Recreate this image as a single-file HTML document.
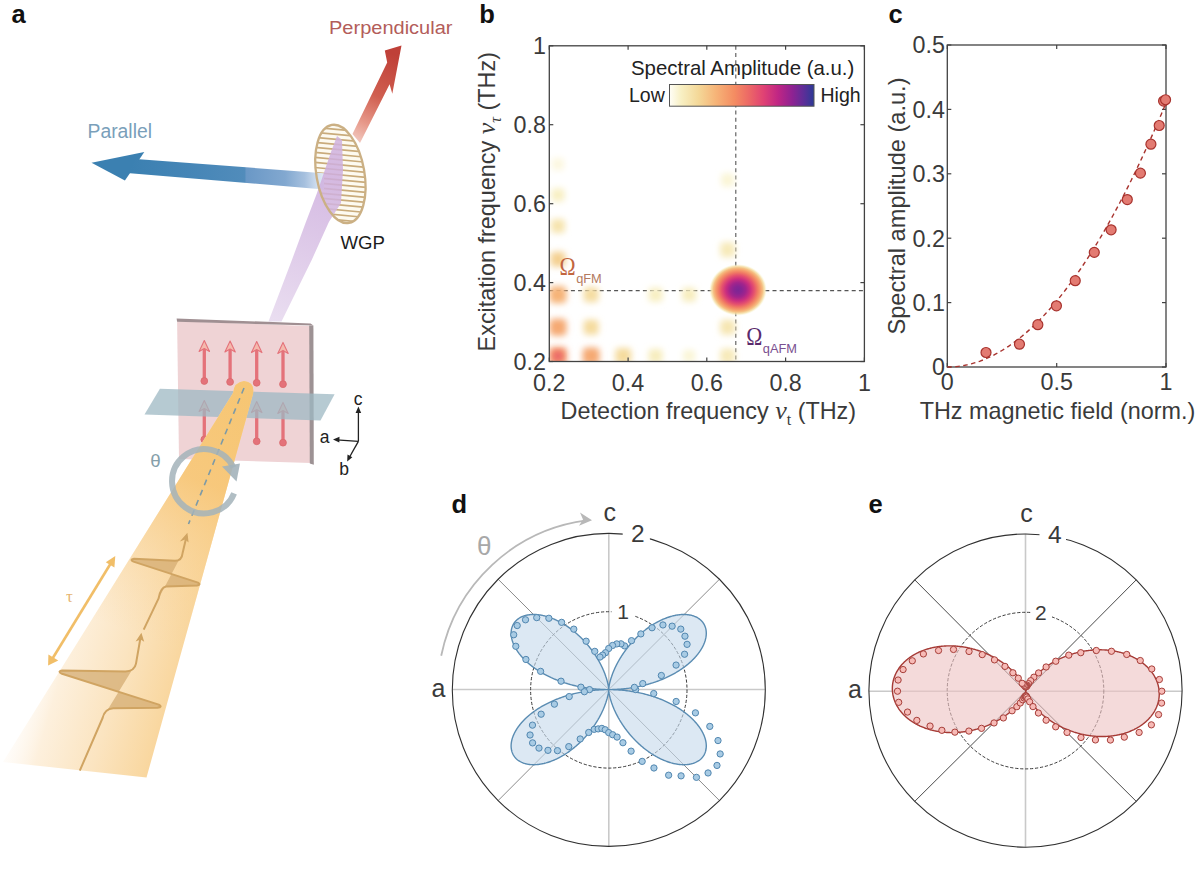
<!DOCTYPE html>
<html><head><meta charset="utf-8"><title>Figure</title>
<style>html,body{margin:0;padding:0;background:#fff;} svg{display:block;}</style></head>
<body><svg width="1204" height="884" viewBox="0 0 1204 884">
<defs><filter id="bblur" x="-50%" y="-50%" width="200%" height="200%"><feGaussianBlur stdDeviation="3.3"/></filter><radialGradient id="mainblob"><stop offset="0" stop-color="#7b2694" stop-opacity="1.00"/><stop offset="0.14" stop-color="#882493" stop-opacity="1.00"/><stop offset="0.28" stop-color="#a2248c" stop-opacity="1.00"/><stop offset="0.42" stop-color="#ca2e7f" stop-opacity="1.00"/><stop offset="0.56" stop-color="#e5516e" stop-opacity="1.00"/><stop offset="0.67" stop-color="#f07a64" stop-opacity="1.00"/><stop offset="0.77" stop-color="#f59e6c" stop-opacity="1.00"/><stop offset="0.85" stop-color="#f5c083" stop-opacity="1.00"/><stop offset="0.92" stop-color="#f5e0a7" stop-opacity="0.80"/><stop offset="0.97" stop-color="#f9f2ca" stop-opacity="0.30"/><stop offset="1.0" stop-color="#fdfaea" stop-opacity="0.00"/></radialGradient><clipPath id="bclip"><rect x="549.3" y="45.8" width="315.1" height="315.7"/></clipPath><linearGradient id="cbar" x1="0" x2="1" y1="0" y2="0"><stop offset="0.0" stop-color="#fffef7"/><stop offset="0.08" stop-color="#f8f0c4"/><stop offset="0.2" stop-color="#f4d898"/><stop offset="0.32" stop-color="#f6b478"/><stop offset="0.45" stop-color="#f48c62"/><stop offset="0.55" stop-color="#ec6866"/><stop offset="0.65" stop-color="#e04274"/><stop offset="0.75" stop-color="#c02684"/><stop offset="0.85" stop-color="#8e2292"/><stop offset="0.93" stop-color="#5c2e98"/><stop offset="1.0" stop-color="#2c3a96"/></linearGradient><linearGradient id="beamg" gradientUnits="userSpaceOnUse" x1="20" y1="700" x2="175" y2="745">
<stop offset="0" stop-color="#fef7ee" stop-opacity="0.3"/><stop offset="0.2" stop-color="#fdf0dd"/><stop offset="0.55" stop-color="#fbe4c0"/><stop offset="0.85" stop-color="#f9d8a2"/><stop offset="1" stop-color="#f8d092"/></linearGradient><linearGradient id="beamtop" gradientUnits="userSpaceOnUse" x1="240" y1="400" x2="150" y2="640">
<stop offset="0" stop-color="#f6c46f"/><stop offset="0.35" stop-color="#f7c677"/><stop offset="0.62" stop-color="#f8cd88" stop-opacity="0.6"/><stop offset="1" stop-color="#f9d49a" stop-opacity="0"/></linearGradient><linearGradient id="purpg" gradientUnits="userSpaceOnUse" x1="275" y1="322" x2="338" y2="140">
<stop offset="0" stop-color="#e6d8ee"/><stop offset="0.5" stop-color="#d6bde3"/><stop offset="0.8" stop-color="#ceaede"/><stop offset="1" stop-color="#d0b2df"/></linearGradient><linearGradient id="blueg" gradientUnits="userSpaceOnUse" x1="130" y1="0" x2="324" y2="0">
<stop offset="0" stop-color="#3b80b1"/><stop offset="0.3" stop-color="#4585b6"/><stop offset="0.59" stop-color="#518cbb"/><stop offset="0.6" stop-color="#6a98c6"/><stop offset="0.8" stop-color="#82a8d0"/><stop offset="0.9" stop-color="#a6c0de"/><stop offset="0.96" stop-color="#cddcee"/><stop offset="1" stop-color="#e2eaf4"/></linearGradient><linearGradient id="redg" gradientUnits="userSpaceOnUse" x1="395" y1="55" x2="352" y2="145">
<stop offset="0" stop-color="#bf4038"/><stop offset="0.45" stop-color="#d05f50"/><stop offset="0.75" stop-color="#e7998a"/><stop offset="1" stop-color="#f4d4cc"/></linearGradient><clipPath id="wgpclip"><ellipse cx="0" cy="0" rx="24" ry="49.7" transform="rotate(-10)"/></clipPath></defs>
<rect width="1204" height="884" fill="#fff"/>
<polygon points="91.5,162.7 144.3,152 134.5,166.5 124.9,180.4" fill="#3b80b1"/><polygon points="401.5,45.6 384.8,50.4 387.2,62.6 352.5,134 360,143 389.6,84.3 392.3,93.8" fill="url(#redg)"/><g transform="translate(340.4,173.9)"><g clip-path="url(#wgpclip)"><ellipse cx="0" cy="0" rx="24" ry="49.7" transform="rotate(-10)" fill="#fdfaf0"/><line x1="-32" y1="-54.0" x2="32" y2="-54.0" stroke="#c9ab7b" stroke-width="1.7" transform="rotate(5.4)"/><line x1="-32" y1="-49.0" x2="32" y2="-49.0" stroke="#c9ab7b" stroke-width="1.7" transform="rotate(5.4)"/><line x1="-32" y1="-44.0" x2="32" y2="-44.0" stroke="#c9ab7b" stroke-width="1.7" transform="rotate(5.4)"/><line x1="-32" y1="-39.0" x2="32" y2="-39.0" stroke="#c9ab7b" stroke-width="1.7" transform="rotate(5.4)"/><line x1="-32" y1="-34.0" x2="32" y2="-34.0" stroke="#c9ab7b" stroke-width="1.7" transform="rotate(5.4)"/><line x1="-32" y1="-29.0" x2="32" y2="-29.0" stroke="#c9ab7b" stroke-width="1.7" transform="rotate(5.4)"/><line x1="-32" y1="-24.0" x2="32" y2="-24.0" stroke="#c9ab7b" stroke-width="1.7" transform="rotate(5.4)"/><line x1="-32" y1="-19.0" x2="32" y2="-19.0" stroke="#c9ab7b" stroke-width="1.7" transform="rotate(5.4)"/><line x1="-32" y1="-14.0" x2="32" y2="-14.0" stroke="#c9ab7b" stroke-width="1.7" transform="rotate(5.4)"/><line x1="-32" y1="-9.0" x2="32" y2="-9.0" stroke="#c9ab7b" stroke-width="1.7" transform="rotate(5.4)"/><line x1="-32" y1="-4.0" x2="32" y2="-4.0" stroke="#c9ab7b" stroke-width="1.7" transform="rotate(5.4)"/><line x1="-32" y1="1.0" x2="32" y2="1.0" stroke="#c9ab7b" stroke-width="1.7" transform="rotate(5.4)"/><line x1="-32" y1="6.0" x2="32" y2="6.0" stroke="#c9ab7b" stroke-width="1.7" transform="rotate(5.4)"/><line x1="-32" y1="11.0" x2="32" y2="11.0" stroke="#c9ab7b" stroke-width="1.7" transform="rotate(5.4)"/><line x1="-32" y1="16.0" x2="32" y2="16.0" stroke="#c9ab7b" stroke-width="1.7" transform="rotate(5.4)"/><line x1="-32" y1="21.0" x2="32" y2="21.0" stroke="#c9ab7b" stroke-width="1.7" transform="rotate(5.4)"/><line x1="-32" y1="26.0" x2="32" y2="26.0" stroke="#c9ab7b" stroke-width="1.7" transform="rotate(5.4)"/><line x1="-32" y1="31.0" x2="32" y2="31.0" stroke="#c9ab7b" stroke-width="1.7" transform="rotate(5.4)"/><line x1="-32" y1="36.0" x2="32" y2="36.0" stroke="#c9ab7b" stroke-width="1.7" transform="rotate(5.4)"/><line x1="-32" y1="41.0" x2="32" y2="41.0" stroke="#c9ab7b" stroke-width="1.7" transform="rotate(5.4)"/><line x1="-32" y1="46.0" x2="32" y2="46.0" stroke="#c9ab7b" stroke-width="1.7" transform="rotate(5.4)"/><line x1="-32" y1="51.0" x2="32" y2="51.0" stroke="#c9ab7b" stroke-width="1.7" transform="rotate(5.4)"/><line x1="-32" y1="56.0" x2="32" y2="56.0" stroke="#c9ab7b" stroke-width="1.7" transform="rotate(5.4)"/></g></g><polygon points="136,159.1 324,173.2 324,189.4 127,173.1" fill="url(#blueg)"/><polygon points="268.5,321.5 281.5,321.5 311.7,260 329,221.7 341,203 343,170 342,140 337,136 331,152 317,193 306,221.7 291.9,260" fill="url(#purpg)" fill-opacity="0.85"/><ellipse cx="340.4" cy="173.9" rx="24" ry="49.7" transform="rotate(-10 340.4 173.9)" fill="none" stroke="#cbb084" stroke-width="2.3"/><text x="329" y="33.8" font-family="Liberation Sans, Arial, Helvetica, sans-serif" font-size="18.8" fill="#b35d5a" textLength="123.5" lengthAdjust="spacingAndGlyphs">Perpendicular</text><text x="87.5" y="138.3" font-family="Liberation Sans, Arial, Helvetica, sans-serif" font-size="19.5" fill="#7a9fba" textLength="64.5" lengthAdjust="spacingAndGlyphs">Parallel</text><text x="340.5" y="249.1" font-family="Liberation Sans, Arial, Helvetica, sans-serif" font-size="18.6" fill="#1c1c1c">WGP</text><polygon points="177.1,321.2 310.1,325.9 311,463 179,459" fill="#efd3d5"/><polygon points="176.6,318.6 310.6,323.4 313.4,325.6 177.1,321.8" fill="#a08f92"/><polygon points="309.2,325.6 313.4,325.6 313.8,464.8 309.8,463.6" fill="#9d9294"/><line x1="204.3" y1="348.5" x2="204.3" y2="381.0" stroke="#e4727a" stroke-width="3.3"/><circle cx="204.3" cy="381.0" r="3.4" fill="#e4727a" stroke="#d96a6c" stroke-width="0.8"/><path d="M199.1,351.5 L204.3,340.5 L209.5,351.5 L204.3,348.5 Z" fill="#f4b9ad" stroke="#e4727a" stroke-width="1.1" stroke-linejoin="round"/><line x1="230.1" y1="349.0" x2="230.1" y2="381.9" stroke="#e4727a" stroke-width="3.3"/><circle cx="230.1" cy="381.9" r="3.4" fill="#e4727a" stroke="#d96a6c" stroke-width="0.8"/><path d="M224.9,352.0 L230.1,341.0 L235.3,352.0 L230.1,349.0 Z" fill="#f4b9ad" stroke="#e4727a" stroke-width="1.1" stroke-linejoin="round"/><line x1="256.7" y1="349.6" x2="256.7" y2="382.8" stroke="#e4727a" stroke-width="3.3"/><circle cx="256.7" cy="382.8" r="3.4" fill="#e4727a" stroke="#d96a6c" stroke-width="0.8"/><path d="M251.5,352.6 L256.7,341.6 L261.9,352.6 L256.7,349.6 Z" fill="#f4b9ad" stroke="#e4727a" stroke-width="1.1" stroke-linejoin="round"/><line x1="283.0" y1="350.4" x2="283.0" y2="384.2" stroke="#e4727a" stroke-width="3.3"/><circle cx="283.0" cy="384.2" r="3.4" fill="#e4727a" stroke="#d96a6c" stroke-width="0.8"/><path d="M277.8,353.4 L283.0,342.4 L288.2,353.4 L283.0,350.4 Z" fill="#f4b9ad" stroke="#e4727a" stroke-width="1.1" stroke-linejoin="round"/><line x1="204.3" y1="408.5" x2="204.3" y2="439.5" stroke="#e4727a" stroke-width="3.3"/><circle cx="204.3" cy="439.5" r="3.4" fill="#e4727a" stroke="#d96a6c" stroke-width="0.8"/><path d="M199.1,411.5 L204.3,400.5 L209.5,411.5 L204.3,408.5 Z" fill="#f4b9ad" stroke="#e4727a" stroke-width="1.1" stroke-linejoin="round"/><line x1="230.1" y1="409.0" x2="230.1" y2="440.4" stroke="#e4727a" stroke-width="3.3"/><circle cx="230.1" cy="440.4" r="3.4" fill="#e4727a" stroke="#d96a6c" stroke-width="0.8"/><path d="M224.9,412.0 L230.1,401.0 L235.3,412.0 L230.1,409.0 Z" fill="#f4b9ad" stroke="#e4727a" stroke-width="1.1" stroke-linejoin="round"/><line x1="256.7" y1="409.6" x2="256.7" y2="441.3" stroke="#e4727a" stroke-width="3.3"/><circle cx="256.7" cy="441.3" r="3.4" fill="#e4727a" stroke="#d96a6c" stroke-width="0.8"/><path d="M251.5,412.6 L256.7,401.6 L261.9,412.6 L256.7,409.6 Z" fill="#f4b9ad" stroke="#e4727a" stroke-width="1.1" stroke-linejoin="round"/><line x1="283.0" y1="410.4" x2="283.0" y2="442.7" stroke="#e4727a" stroke-width="3.3"/><circle cx="283.0" cy="442.7" r="3.4" fill="#e4727a" stroke="#d96a6c" stroke-width="0.8"/><path d="M277.8,413.4 L283.0,402.4 L288.2,413.4 L283.0,410.4 Z" fill="#f4b9ad" stroke="#e4727a" stroke-width="1.1" stroke-linejoin="round"/><polygon points="159.9,388.7 334.6,394.2 320.5,420.4 144.5,414.6" fill="#9db8c3" fill-opacity="0.75"/><path d="M233,393 Q234,382 244,381 Q255,382 253,394 L146.5,777.6 L3,762 Z" fill="url(#beamg)"/><path d="M233,393 Q234,382 244,381 Q255,382 253,394 L146.5,777.6 L3,762 Z" fill="url(#beamtop)" fill-opacity="0.9"/><line x1="244" y1="388" x2="188.5" y2="524" stroke="#7d9aa6" stroke-width="1.6" stroke-dasharray="6,5"/><path d="M234.1,493.3 A32.2,32.2 0 1 1 233.4,467.6" fill="none" stroke="#a3b3ba" stroke-width="6" stroke-opacity="0.85"/><polygon points="222,466.5 240,463.5 236.5,481.5" fill="#a3b3ba" fill-opacity="0.9"/><text x="155.5" y="467.3" font-family="Liberation Sans, Arial, Helvetica, sans-serif" font-size="18.8" fill="#86a0aa" text-anchor="middle">&#952;</text><path d="M158.6,598.4 Q160.5,587.8 166,586.6 L197,585.6 Q201.5,584.6 198,582.6 L133.5,561.6 Q129.2,559.6 134,558.8 L175,560.8 Q182,560.8 182.6,553 Z" fill="#d3aa70" fill-opacity="0.72"/><path d="M143.7,629.6 L158.6,598.4 Q160.5,587.8 166,586.6 L197,585.6 Q201.5,584.6 198,582.6 L133.5,561.6 Q129.2,559.6 134,558.8 L175,560.8 Q182,560.8 182.6,553 L186.6,536" fill="none" stroke="#d0a462" stroke-width="2" stroke-linejoin="round"/><path d="M187.4,532.8 L179.8,541.6 L185.2,539.6 L188.6,542.6 Z" fill="#d0a462"/><path d="M102.6,718 Q104.5,709 113.2,708.3 L157.5,707.8 Q163,706.8 158.8,704.6 L62,673.8 Q56.8,671.4 62.5,670.4 L125.4,671.4 Q134.5,671.2 136,663.6 Z" fill="#d3aa70" fill-opacity="0.72"/><path d="M79.8,770.6 L102.6,718 Q104.5,709 113.2,708.3 L157.5,707.8 Q163,706.8 158.8,704.6 L62,673.8 Q56.8,671.4 62.5,670.4 L125.4,671.4 Q134.5,671.2 136,663.6 L140.6,637" fill="none" stroke="#d0a462" stroke-width="2" stroke-linejoin="round"/><path d="M141.4,632.8 L135.6,641.6 L140.6,639.6 L144.2,641.8 Z" fill="#d0a462"/><line x1="112.5" y1="560.5" x2="51" y2="661" stroke="#f1be68" stroke-width="2.6"/><polygon points="115.3,556.1 105.8,562.2 114.4,567.6" fill="#f1be68"/><polygon points="48.1,665.4 48.4,654.5 58.3,660.6" fill="#f1be68"/><text x="69.5" y="601.6" font-family="Liberation Serif, Times New Roman, serif" font-size="17" fill="#e6b574" text-anchor="middle">&#964;</text><line x1="358.4" y1="441.4" x2="358.4" y2="410" stroke="#222" stroke-width="1.3"/><polygon points="358.4,406.5 355.6,413 361.2,413" fill="#222"/><line x1="358.4" y1="441.4" x2="336.5" y2="439.8" stroke="#222" stroke-width="1.3"/><polygon points="333,439.6 339.5,436.8 339.3,442.4" fill="#222"/><line x1="358.4" y1="441.4" x2="349" y2="458" stroke="#222" stroke-width="1.3"/><polygon points="347.2,461.5 347.5,454.5 352.3,457.2" fill="#222"/><text x="358" y="405" font-family="Liberation Sans, Arial, Helvetica, sans-serif" font-size="17.5" fill="#222" text-anchor="middle">c</text><text x="324.7" y="443.3" font-family="Liberation Sans, Arial, Helvetica, sans-serif" font-size="17.5" fill="#222" text-anchor="middle">a</text><text x="344.2" y="475" font-family="Liberation Sans, Arial, Helvetica, sans-serif" font-size="17.5" fill="#222" text-anchor="middle">b</text><line x1="735.8" y1="45.8" x2="735.8" y2="361.5" stroke="#555" stroke-width="1.1" stroke-dasharray="4,3.2"/><line x1="549.3" y1="290.6" x2="864.4" y2="290.6" stroke="#555" stroke-width="1.1" stroke-dasharray="4,3.2"/><g clip-path="url(#bclip)"><rect x="549.0" y="347.0" width="18.0" height="18.0" rx="4.5" fill="#f59869" filter="url(#bblur)"/><rect x="549.5" y="318.7" width="17.0" height="17.0" rx="4.2" fill="#f5a972" filter="url(#bblur)"/><rect x="549.5" y="286.3" width="17.0" height="17.0" rx="4.2" fill="#f6b377" filter="url(#bblur)"/><rect x="550.5" y="251.8" width="15.0" height="15.0" rx="3.8" fill="#f4d091" filter="url(#bblur)"/><rect x="551.0" y="219.1" width="14.0" height="14.0" rx="3.5" fill="#f6e4ae" filter="url(#bblur)"/><rect x="551.5" y="188.5" width="13.0" height="13.0" rx="3.2" fill="#f8efc2" filter="url(#bblur)"/><rect x="552.0" y="158.2" width="12.0" height="12.0" rx="3.0" fill="#fcf7df" filter="url(#bblur)"/><rect x="582.6" y="347.5" width="17.0" height="17.0" rx="4.2" fill="#f5a972" filter="url(#bblur)"/><rect x="583.6" y="319.7" width="15.0" height="15.0" rx="3.8" fill="#f5db9e" filter="url(#bblur)"/><rect x="583.6" y="287.3" width="15.0" height="15.0" rx="3.8" fill="#f5dda2" filter="url(#bblur)"/><rect x="615.3" y="348.0" width="16.0" height="16.0" rx="4.0" fill="#f5db9e" filter="url(#bblur)"/><rect x="648.6" y="349.0" width="14.0" height="14.0" rx="3.5" fill="#f7edbe" filter="url(#bblur)"/><rect x="648.6" y="287.8" width="14.0" height="14.0" rx="3.5" fill="#f8efc2" filter="url(#bblur)"/><rect x="682.1" y="287.8" width="14.0" height="14.0" rx="3.5" fill="#f7edbe" filter="url(#bblur)"/><rect x="683.1" y="350.0" width="12.0" height="12.0" rx="3.0" fill="#faf5d5" filter="url(#bblur)"/><rect x="720.2" y="242.3" width="15.0" height="15.0" rx="3.8" fill="#f7eaba" filter="url(#bblur)"/><rect x="720.2" y="319.7" width="15.0" height="15.0" rx="3.8" fill="#f6e6b2" filter="url(#bblur)"/><rect x="720.2" y="348.5" width="15.0" height="15.0" rx="3.8" fill="#f7eaba" filter="url(#bblur)"/><rect x="721.2" y="173.5" width="13.0" height="13.0" rx="3.2" fill="#faf5d5" filter="url(#bblur)"/><rect x="553.5" y="351.5" width="9" height="9" rx="3" fill="#e85d6a" filter="url(#bblur)"/><ellipse cx="738" cy="289.9" rx="29" ry="26" fill="url(#mainblob)"/></g><rect x="549.3" y="45.8" width="315.1" height="315.7" fill="none" stroke="#424242" stroke-width="1.3"/><line x1="549.3" y1="361.5" x2="549.3" y2="357.5" stroke="#424242" stroke-width="1.2"/><line x1="549.3" y1="45.8" x2="549.3" y2="49.8" stroke="#424242" stroke-width="1.2"/><line x1="549.3" y1="361.5" x2="553.3" y2="361.5" stroke="#424242" stroke-width="1.2"/><line x1="864.4" y1="361.5" x2="860.4" y2="361.5" stroke="#424242" stroke-width="1.2"/><text x="549.30" y="390.50" font-family="Liberation Sans, Arial, Helvetica, sans-serif" font-size="23.3" fill="#3a3a3a" text-anchor="middle" font-weight="normal" >0.2</text><text x="546.00" y="369.80" font-family="Liberation Sans, Arial, Helvetica, sans-serif" font-size="23.3" fill="#3a3a3a" text-anchor="end" font-weight="normal" >0.2</text><line x1="628.1" y1="361.5" x2="628.1" y2="357.5" stroke="#424242" stroke-width="1.2"/><line x1="628.1" y1="45.8" x2="628.1" y2="49.8" stroke="#424242" stroke-width="1.2"/><line x1="549.3" y1="282.6" x2="553.3" y2="282.6" stroke="#424242" stroke-width="1.2"/><line x1="864.4" y1="282.6" x2="860.4" y2="282.6" stroke="#424242" stroke-width="1.2"/><text x="628.07" y="390.50" font-family="Liberation Sans, Arial, Helvetica, sans-serif" font-size="23.3" fill="#3a3a3a" text-anchor="middle" font-weight="normal" >0.4</text><text x="546.00" y="290.88" font-family="Liberation Sans, Arial, Helvetica, sans-serif" font-size="23.3" fill="#3a3a3a" text-anchor="end" font-weight="normal" >0.4</text><line x1="706.8" y1="361.5" x2="706.8" y2="357.5" stroke="#424242" stroke-width="1.2"/><line x1="706.8" y1="45.8" x2="706.8" y2="49.8" stroke="#424242" stroke-width="1.2"/><line x1="549.3" y1="203.7" x2="553.3" y2="203.7" stroke="#424242" stroke-width="1.2"/><line x1="864.4" y1="203.7" x2="860.4" y2="203.7" stroke="#424242" stroke-width="1.2"/><text x="706.85" y="390.50" font-family="Liberation Sans, Arial, Helvetica, sans-serif" font-size="23.3" fill="#3a3a3a" text-anchor="middle" font-weight="normal" >0.6</text><text x="546.00" y="211.95" font-family="Liberation Sans, Arial, Helvetica, sans-serif" font-size="23.3" fill="#3a3a3a" text-anchor="end" font-weight="normal" >0.6</text><line x1="785.6" y1="361.5" x2="785.6" y2="357.5" stroke="#424242" stroke-width="1.2"/><line x1="785.6" y1="45.8" x2="785.6" y2="49.8" stroke="#424242" stroke-width="1.2"/><line x1="549.3" y1="124.7" x2="553.3" y2="124.7" stroke="#424242" stroke-width="1.2"/><line x1="864.4" y1="124.7" x2="860.4" y2="124.7" stroke="#424242" stroke-width="1.2"/><text x="785.62" y="390.50" font-family="Liberation Sans, Arial, Helvetica, sans-serif" font-size="23.3" fill="#3a3a3a" text-anchor="middle" font-weight="normal" >0.8</text><text x="546.00" y="133.02" font-family="Liberation Sans, Arial, Helvetica, sans-serif" font-size="23.3" fill="#3a3a3a" text-anchor="end" font-weight="normal" >0.8</text><line x1="864.4" y1="361.5" x2="864.4" y2="357.5" stroke="#424242" stroke-width="1.2"/><line x1="864.4" y1="45.8" x2="864.4" y2="49.8" stroke="#424242" stroke-width="1.2"/><line x1="549.3" y1="45.8" x2="553.3" y2="45.8" stroke="#424242" stroke-width="1.2"/><line x1="864.4" y1="45.8" x2="860.4" y2="45.8" stroke="#424242" stroke-width="1.2"/><text x="864.40" y="390.50" font-family="Liberation Sans, Arial, Helvetica, sans-serif" font-size="23.3" fill="#3a3a3a" text-anchor="middle" font-weight="normal" >1</text><text x="546.00" y="54.10" font-family="Liberation Sans, Arial, Helvetica, sans-serif" font-size="23.3" fill="#3a3a3a" text-anchor="end" font-weight="normal" >1</text><rect x="669.5" y="84.5" width="144.5" height="21.7" fill="url(#cbar)" stroke="#555" stroke-width="1"/><text x="631.00" y="75.20" font-family="Liberation Sans, Arial, Helvetica, sans-serif" font-size="20.4" fill="#222" text-anchor="start" font-weight="normal" >Spectral Amplitude (a.u.)</text><text x="629.00" y="102.20" font-family="Liberation Sans, Arial, Helvetica, sans-serif" font-size="19.5" fill="#222" text-anchor="start" font-weight="normal" >Low</text><text x="820.50" y="102.20" font-family="Liberation Sans, Arial, Helvetica, sans-serif" font-size="19.5" fill="#222" text-anchor="start" font-weight="normal" >High</text><text transform="translate(559.6,274.9) scale(0.84,1)" font-family="Liberation Serif, Times New Roman, serif" font-size="25.8" fill="#c2663f">&#937;</text><text x="576.20" y="282.70" font-family="Liberation Sans, Arial, Helvetica, sans-serif" font-size="12.8" fill="#b47a60" text-anchor="start" font-weight="normal" >qFM</text><text transform="translate(746.2,344.9) scale(0.84,1)" font-family="Liberation Serif, Times New Roman, serif" font-size="25.8" fill="#5a2a6c">&#937;</text><text x="762.80" y="353.20" font-family="Liberation Sans, Arial, Helvetica, sans-serif" font-size="12.8" fill="#7a5090" text-anchor="start" font-weight="normal" >qAFM</text><text x="560.6" y="418.7" font-family="Liberation Sans, Arial, Helvetica, sans-serif" font-size="23.4" fill="#3a3a3a">Detection frequency <tspan font-family="Liberation Serif, Times New Roman, serif" font-style="italic" font-size="26">&#957;</tspan><tspan font-family="Liberation Serif, Times New Roman, serif" font-size="16" dy="6">t</tspan><tspan dy="-6"> (THz)</tspan></text><text transform="translate(495.4,351.4) rotate(-90)" x="0" y="0" font-family="Liberation Sans, Arial, Helvetica, sans-serif" font-size="23.4" fill="#3a3a3a">Excitation frequency <tspan font-family="Liberation Serif, Times New Roman, serif" font-style="italic" font-size="26">&#957;</tspan><tspan font-family="Liberation Serif, Times New Roman, serif" font-style="italic" font-size="16" dy="6">&#964;</tspan><tspan dy="-6"> (THz)</tspan></text><rect x="947.3" y="45.0" width="218.70000000000005" height="322.0" fill="none" stroke="#424242" stroke-width="1.3"/><line x1="947.3" y1="367.0" x2="947.3" y2="363.0" stroke="#424242" stroke-width="1.2"/><line x1="947.3" y1="45.0" x2="947.3" y2="49.0" stroke="#424242" stroke-width="1.2"/><text x="947.30" y="389.90" font-family="Liberation Sans, Arial, Helvetica, sans-serif" font-size="23.3" fill="#3a3a3a" text-anchor="middle" font-weight="normal" >0</text><line x1="1056.7" y1="367.0" x2="1056.7" y2="363.0" stroke="#424242" stroke-width="1.2"/><line x1="1056.7" y1="45.0" x2="1056.7" y2="49.0" stroke="#424242" stroke-width="1.2"/><text x="1056.65" y="389.90" font-family="Liberation Sans, Arial, Helvetica, sans-serif" font-size="23.3" fill="#3a3a3a" text-anchor="middle" font-weight="normal" >0.5</text><line x1="1166.0" y1="367.0" x2="1166.0" y2="363.0" stroke="#424242" stroke-width="1.2"/><line x1="1166.0" y1="45.0" x2="1166.0" y2="49.0" stroke="#424242" stroke-width="1.2"/><text x="1166.00" y="389.90" font-family="Liberation Sans, Arial, Helvetica, sans-serif" font-size="23.3" fill="#3a3a3a" text-anchor="middle" font-weight="normal" >1</text><line x1="947.3" y1="367.0" x2="951.3" y2="367.0" stroke="#424242" stroke-width="1.2"/><line x1="1166.0" y1="367.0" x2="1162.0" y2="367.0" stroke="#424242" stroke-width="1.2"/><text x="945.00" y="375.30" font-family="Liberation Sans, Arial, Helvetica, sans-serif" font-size="23.3" fill="#3a3a3a" text-anchor="end" font-weight="normal" >0</text><line x1="947.3" y1="302.6" x2="951.3" y2="302.6" stroke="#424242" stroke-width="1.2"/><line x1="1166.0" y1="302.6" x2="1162.0" y2="302.6" stroke="#424242" stroke-width="1.2"/><text x="945.00" y="310.90" font-family="Liberation Sans, Arial, Helvetica, sans-serif" font-size="23.3" fill="#3a3a3a" text-anchor="end" font-weight="normal" >0.1</text><line x1="947.3" y1="238.2" x2="951.3" y2="238.2" stroke="#424242" stroke-width="1.2"/><line x1="1166.0" y1="238.2" x2="1162.0" y2="238.2" stroke="#424242" stroke-width="1.2"/><text x="945.00" y="246.50" font-family="Liberation Sans, Arial, Helvetica, sans-serif" font-size="23.3" fill="#3a3a3a" text-anchor="end" font-weight="normal" >0.2</text><line x1="947.3" y1="173.8" x2="951.3" y2="173.8" stroke="#424242" stroke-width="1.2"/><line x1="1166.0" y1="173.8" x2="1162.0" y2="173.8" stroke="#424242" stroke-width="1.2"/><text x="945.00" y="182.10" font-family="Liberation Sans, Arial, Helvetica, sans-serif" font-size="23.3" fill="#3a3a3a" text-anchor="end" font-weight="normal" >0.3</text><line x1="947.3" y1="109.4" x2="951.3" y2="109.4" stroke="#424242" stroke-width="1.2"/><line x1="1166.0" y1="109.4" x2="1162.0" y2="109.4" stroke="#424242" stroke-width="1.2"/><text x="945.00" y="117.70" font-family="Liberation Sans, Arial, Helvetica, sans-serif" font-size="23.3" fill="#3a3a3a" text-anchor="end" font-weight="normal" >0.4</text><line x1="947.3" y1="45.0" x2="951.3" y2="45.0" stroke="#424242" stroke-width="1.2"/><line x1="1166.0" y1="45.0" x2="1162.0" y2="45.0" stroke="#424242" stroke-width="1.2"/><text x="945.00" y="53.30" font-family="Liberation Sans, Arial, Helvetica, sans-serif" font-size="23.3" fill="#3a3a3a" text-anchor="end" font-weight="normal" >0.5</text><polyline points="947.30,367.00 949.49,366.97 951.67,366.89 953.86,366.76 956.05,366.58 958.23,366.34 960.42,366.05 962.61,365.71 964.80,365.31 966.98,364.86 969.17,364.36 971.36,363.81 973.54,363.20 975.73,362.54 977.92,361.82 980.11,361.06 982.29,360.24 984.48,359.37 986.67,358.45 988.85,357.47 991.04,356.44 993.23,355.36 995.41,354.22 997.60,353.03 999.79,351.79 1001.97,350.50 1004.16,349.15 1006.35,347.75 1008.54,346.30 1010.72,344.79 1012.91,343.24 1015.10,341.63 1017.28,339.96 1019.47,338.25 1021.66,336.48 1023.85,334.66 1026.03,332.78 1028.22,330.85 1030.41,328.87 1032.59,326.84 1034.78,324.75 1036.97,322.61 1039.15,320.42 1041.34,318.18 1043.53,315.88 1045.71,313.53 1047.90,311.13 1050.09,308.67 1052.28,306.17 1054.46,303.60 1056.65,300.99 1058.84,298.32 1061.02,295.60 1063.21,292.83 1065.40,290.01 1067.59,287.13 1069.77,284.20 1071.96,281.21 1074.15,278.18 1076.33,275.09 1078.52,271.95 1080.71,268.75 1082.89,265.50 1085.08,262.20 1087.27,258.85 1089.45,255.44 1091.64,251.98 1093.83,248.47 1096.02,244.91 1098.20,241.29 1100.39,237.62 1102.58,233.90 1104.76,230.12 1106.95,226.29 1109.14,222.41 1111.33,218.48 1113.51,214.49 1115.70,210.45 1117.89,206.36 1120.07,202.21 1122.26,198.01 1124.45,193.76 1126.63,189.46 1128.82,185.10 1131.01,180.69 1133.19,176.23 1135.38,171.72 1137.57,167.15 1139.76,162.53 1141.94,157.85 1144.13,153.13 1146.32,148.35 1148.50,143.52 1150.69,138.63 1152.88,133.69 1155.07,128.70 1157.25,123.66 1159.44,118.56 1161.63,113.42 1163.81,108.21 1166.00,102.96" fill="none" stroke="#a8332e" stroke-width="1.4" stroke-dasharray="4.5,3.5"/><circle cx="986.01" cy="352.51" r="5" fill="#e37b72" stroke="#a8332e" stroke-width="1.2"/><circle cx="1019.47" cy="344.20" r="5" fill="#e37b72" stroke="#a8332e" stroke-width="1.2"/><circle cx="1037.84" cy="324.69" r="5" fill="#e37b72" stroke="#a8332e" stroke-width="1.2"/><circle cx="1056.43" cy="305.82" r="5" fill="#e37b72" stroke="#a8332e" stroke-width="1.2"/><circle cx="1075.24" cy="280.70" r="5" fill="#e37b72" stroke="#a8332e" stroke-width="1.2"/><circle cx="1094.27" cy="252.37" r="5" fill="#e37b72" stroke="#a8332e" stroke-width="1.2"/><circle cx="1111.11" cy="229.83" r="5" fill="#e37b72" stroke="#a8332e" stroke-width="1.2"/><circle cx="1127.29" cy="199.56" r="5" fill="#e37b72" stroke="#a8332e" stroke-width="1.2"/><circle cx="1140.41" cy="173.16" r="5" fill="#e37b72" stroke="#a8332e" stroke-width="1.2"/><circle cx="1150.91" cy="144.18" r="5" fill="#e37b72" stroke="#a8332e" stroke-width="1.2"/><circle cx="1159.22" cy="125.50" r="5" fill="#e37b72" stroke="#a8332e" stroke-width="1.2"/><circle cx="1163.59" cy="101.03" r="5" fill="#e37b72" stroke="#a8332e" stroke-width="1.2"/><circle cx="1165.56" cy="99.74" r="5" fill="#e37b72" stroke="#a8332e" stroke-width="1.2"/><text x="919.70" y="418.50" font-family="Liberation Sans, Arial, Helvetica, sans-serif" font-size="23.4" fill="#3a3a3a" text-anchor="start" font-weight="normal" >THz magnetic field (norm.)</text><text transform="translate(905,334.5) rotate(-90)" font-family="Liberation Sans, Arial, Helvetica, sans-serif" font-size="23.6" fill="#3a3a3a">Spectral amplitude (a.u.)</text><line x1="452.3" y1="689.6" x2="765.3" y2="689.6" stroke="#c9c9c9" stroke-width="1.5"/><line x1="608.8" y1="533.4" x2="608.8" y2="846.4" stroke="#c9c9c9" stroke-width="1.6"/><line x1="608.8" y1="689.6" x2="719.5" y2="579.2" stroke="#8c8c8c" stroke-width="1"/><line x1="608.8" y1="689.6" x2="498.1" y2="579.2" stroke="#8c8c8c" stroke-width="1"/><line x1="608.8" y1="689.6" x2="498.1" y2="800.6" stroke="#8c8c8c" stroke-width="1"/><line x1="608.8" y1="689.6" x2="719.5" y2="800.6" stroke="#8c8c8c" stroke-width="1"/><circle cx="608.8" cy="689.9" r="78.2" fill="none" stroke="#3a3a3a" stroke-width="1" stroke-dasharray="3.2,1.8"/><circle cx="608.8" cy="689.9" r="156.5" fill="none" stroke="#303030" stroke-width="1.1"/><polygon points="608.70,689.60 610.01,689.59 611.32,689.58 612.63,689.55 613.94,689.51 615.25,689.46 616.56,689.39 617.86,689.32 619.17,689.23 620.47,689.14 621.77,689.03 623.07,688.91 624.36,688.78 625.65,688.64 626.94,688.48 628.23,688.32 629.51,688.14 630.79,687.96 632.06,687.76 633.33,687.55 634.59,687.33 635.85,687.11 637.11,686.86 638.35,686.61 639.60,686.35 640.83,686.08 642.07,685.80 643.29,685.51 644.51,685.20 645.72,684.89 646.93,684.57 648.12,684.23 649.31,683.89 650.49,683.54 651.67,683.18 652.84,682.81 653.99,682.43 655.14,682.04 656.28,681.64 657.42,681.23 658.54,680.81 659.65,680.39 660.76,679.95 661.85,679.51 662.94,679.06 664.01,678.60 665.07,678.13 666.13,677.66 667.17,677.17 668.20,676.68 669.22,676.18 670.23,675.68 671.23,675.16 672.22,674.64 673.19,674.12 674.16,673.58 675.11,673.04 676.05,672.50 676.98,671.94 677.89,671.38 678.79,670.82 679.68,670.25 680.56,669.67 681.42,669.09 682.27,668.50 683.11,667.91 683.93,667.32 684.74,666.71 685.54,666.11 686.32,665.50 687.09,664.88 687.84,664.27 688.58,663.64 689.31,663.02 690.02,662.39 690.72,661.76 691.40,661.12 692.07,660.49 692.72,659.85 693.36,659.20 693.98,658.56 694.59,657.91 695.18,657.27 695.76,656.62 696.33,655.96 696.87,655.31 697.41,654.66 697.92,654.00 698.43,653.35 698.91,652.69 699.38,652.04 699.84,651.38 700.28,650.73 700.70,650.07 701.11,649.42 701.51,648.76 701.89,648.11 702.25,647.46 702.59,646.81 702.93,646.16 703.24,645.51 703.54,644.87 703.82,644.23 704.09,643.59 704.35,642.95 704.58,642.32 704.80,641.68 705.01,641.06 705.20,640.43 705.38,639.81 705.54,639.19 705.68,638.58 705.81,637.97 705.92,637.36 706.02,636.76 706.10,636.16 706.17,635.57 706.22,634.98 706.26,634.40 706.28,633.83 706.29,633.26 706.28,632.69 706.26,632.13 706.22,631.58 706.17,631.03 706.11,630.49 706.03,629.96 705.93,629.43 705.82,628.91 705.70,628.40 705.56,627.89 705.41,627.39 705.24,626.90 705.07,626.42 704.87,625.94 704.67,625.48 704.45,625.02 704.22,624.57 703.97,624.12 703.71,623.69 703.44,623.26 703.15,622.85 702.86,622.44 702.55,622.04 702.23,621.65 701.89,621.27 701.55,620.90 701.19,620.53 700.82,620.18 700.44,619.84 700.05,619.51 699.64,619.18 699.23,618.87 698.80,618.57 698.37,618.28 697.92,617.99 697.46,617.72 696.99,617.46 696.52,617.21 696.03,616.97 695.53,616.74 695.02,616.52 694.51,616.31 693.98,616.12 693.45,615.93 692.90,615.75 692.35,615.59 691.79,615.44 691.22,615.30 690.65,615.17 690.06,615.05 689.47,614.94 688.87,614.84 688.26,614.75 687.65,614.68 687.03,614.62 686.40,614.57 685.77,614.53 685.12,614.50 684.48,614.48 683.83,614.48 683.17,614.48 682.50,614.50 681.83,614.53 681.16,614.57 680.48,614.62 679.80,614.68 679.11,614.75 678.41,614.84 677.72,614.94 677.02,615.05 676.31,615.17 675.60,615.30 674.89,615.44 674.18,615.59 673.46,615.75 672.74,615.93 672.02,616.12 671.29,616.31 670.57,616.52 669.84,616.74 669.11,616.97 668.37,617.21 667.64,617.46 666.91,617.72 666.17,617.99 665.43,618.28 664.70,618.57 663.96,618.87 663.22,619.18 662.48,619.51 661.75,619.84 661.01,620.18 660.27,620.53 659.54,620.90 658.80,621.27 658.07,621.65 657.34,622.04 656.61,622.44 655.88,622.85 655.15,623.26 654.42,623.69 653.70,624.12 652.98,624.57 652.26,625.02 651.55,625.48 650.83,625.94 650.12,626.42 649.42,626.90 648.71,627.39 648.01,627.89 647.32,628.40 646.62,628.91 645.93,629.43 645.25,629.96 644.57,630.49 643.89,631.03 643.22,631.58 642.55,632.13 641.89,632.69 641.23,633.26 640.58,633.83 639.93,634.40 639.29,634.98 638.65,635.57 638.02,636.16 637.39,636.76 636.77,637.36 636.15,637.97 635.54,638.58 634.94,639.19 634.34,639.81 633.75,640.43 633.17,641.06 632.59,641.68 632.02,642.32 631.45,642.95 630.89,643.59 630.34,644.23 629.80,644.87 629.26,645.51 628.73,646.16 628.20,646.81 627.68,647.46 627.17,648.11 626.67,648.76 626.17,649.42 625.68,650.07 625.20,650.73 624.73,651.38 624.26,652.04 623.80,652.69 623.35,653.35 622.90,654.00 622.46,654.66 622.03,655.31 621.61,655.96 621.20,656.62 620.79,657.27 620.39,657.91 620.00,658.56 619.61,659.20 619.24,659.85 618.87,660.49 618.50,661.12 618.15,661.76 617.80,662.39 617.46,663.02 617.13,663.64 616.81,664.27 616.49,664.88 616.18,665.50 615.88,666.11 615.59,666.71 615.30,667.32 615.02,667.91 614.75,668.50 614.48,669.09 614.23,669.67 613.98,670.25 613.73,670.82 613.50,671.38 613.27,671.94 613.04,672.50 612.83,673.04 612.62,673.58 612.42,674.12 612.22,674.64 612.03,675.16 611.85,675.68 611.67,676.18 611.51,676.68 611.34,677.17 611.18,677.66 611.03,678.13 610.89,678.60 610.75,679.06 610.62,679.51 610.49,679.95 610.37,680.39 610.25,680.81 610.14,681.23 610.03,681.64 609.93,682.04 609.84,682.43 609.75,682.81 609.66,683.18 609.58,683.54 609.50,683.89 609.43,684.23 609.36,684.57 609.30,684.89 609.24,685.20 609.18,685.51 609.13,685.80 609.09,686.08 609.04,686.35 609.00,686.61 608.96,686.86 608.93,687.11 608.90,687.33 608.87,687.55 608.84,687.76 608.82,687.96 608.80,688.14 608.78,688.32 608.77,688.48 608.75,688.64 608.74,688.78 608.73,688.91 608.72,689.03 608.72,689.14 608.71,689.23 608.71,689.32 608.71,689.39 608.70,689.46 608.70,689.51 608.70,689.55 608.70,689.58 608.70,689.59 608.70,689.60 608.70,689.59 608.70,689.58 608.70,689.55 608.70,689.51 608.70,689.46 608.69,689.39 608.69,689.32 608.69,689.23 608.68,689.14 608.68,689.03 608.67,688.91 608.66,688.78 608.65,688.64 608.63,688.48 608.62,688.32 608.60,688.14 608.58,687.96 608.56,687.76 608.53,687.55 608.50,687.33 608.47,687.11 608.44,686.86 608.40,686.61 608.36,686.35 608.31,686.08 608.27,685.80 608.22,685.51 608.16,685.20 608.10,684.89 608.04,684.57 607.97,684.23 607.90,683.89 607.82,683.54 607.74,683.18 607.65,682.81 607.56,682.43 607.47,682.04 607.37,681.64 607.26,681.23 607.15,680.81 607.03,680.39 606.91,679.95 606.78,679.51 606.65,679.06 606.51,678.60 606.37,678.13 606.22,677.66 606.06,677.17 605.89,676.68 605.73,676.18 605.55,675.68 605.37,675.16 605.18,674.64 604.98,674.12 604.78,673.58 604.57,673.04 604.36,672.50 604.13,671.94 603.90,671.38 603.67,670.82 603.42,670.25 603.17,669.67 602.92,669.09 602.65,668.50 602.38,667.91 602.10,667.32 601.81,666.71 601.52,666.11 601.22,665.50 600.91,664.88 600.59,664.27 600.27,663.64 599.94,663.02 599.60,662.39 599.25,661.76 598.90,661.12 598.53,660.49 598.16,659.85 597.79,659.20 597.40,658.56 597.01,657.91 596.61,657.27 596.20,656.62 595.79,655.96 595.37,655.31 594.94,654.66 594.50,654.00 594.05,653.35 593.60,652.69 593.14,652.04 592.67,651.38 592.20,650.73 591.72,650.07 591.23,649.42 590.73,648.76 590.23,648.11 589.72,647.46 589.20,646.81 588.67,646.16 588.14,645.51 587.60,644.87 587.06,644.23 586.51,643.59 585.95,642.95 585.38,642.32 584.81,641.68 584.23,641.06 583.65,640.43 583.06,639.81 582.46,639.19 581.86,638.58 581.25,637.97 580.63,637.36 580.01,636.76 579.38,636.16 578.75,635.57 578.11,634.98 577.47,634.40 576.82,633.83 576.17,633.26 575.51,632.69 574.85,632.13 574.18,631.58 573.51,631.03 572.83,630.49 572.15,629.96 571.47,629.43 570.78,628.91 570.08,628.40 569.39,627.89 568.69,627.39 567.98,626.90 567.28,626.42 566.57,625.94 565.85,625.48 565.14,625.02 564.42,624.57 563.70,624.12 562.98,623.69 562.25,623.26 561.52,622.85 560.79,622.44 560.06,622.04 559.33,621.65 558.60,621.27 557.86,620.90 557.13,620.53 556.39,620.18 555.65,619.84 554.92,619.51 554.18,619.18 553.44,618.87 552.70,618.57 551.97,618.28 551.23,617.99 550.49,617.72 549.76,617.46 549.03,617.21 548.29,616.97 547.56,616.74 546.83,616.52 546.11,616.31 545.38,616.12 544.66,615.93 543.94,615.75 543.22,615.59 542.51,615.44 541.80,615.30 541.09,615.17 540.38,615.05 539.68,614.94 538.99,614.84 538.29,614.75 537.60,614.68 536.92,614.62 536.24,614.57 535.57,614.53 534.90,614.50 534.23,614.48 533.58,614.48 532.92,614.48 532.28,614.50 531.63,614.53 531.00,614.57 530.37,614.62 529.75,614.68 529.14,614.75 528.53,614.84 527.93,614.94 527.34,615.05 526.75,615.17 526.18,615.30 525.61,615.44 525.05,615.59 524.50,615.75 523.95,615.93 523.42,616.12 522.89,616.31 522.38,616.52 521.87,616.74 521.37,616.97 520.88,617.21 520.41,617.46 519.94,617.72 519.48,617.99 519.03,618.28 518.60,618.57 518.17,618.87 517.76,619.18 517.35,619.51 516.96,619.84 516.58,620.18 516.21,620.53 515.85,620.90 515.51,621.27 515.17,621.65 514.85,622.04 514.54,622.44 514.25,622.85 513.96,623.26 513.69,623.69 513.43,624.12 513.18,624.57 512.95,625.02 512.73,625.48 512.53,625.94 512.33,626.42 512.16,626.90 511.99,627.39 511.84,627.89 511.70,628.40 511.58,628.91 511.47,629.43 511.37,629.96 511.29,630.49 511.23,631.03 511.18,631.58 511.14,632.13 511.12,632.69 511.11,633.26 511.12,633.83 511.14,634.40 511.18,634.98 511.23,635.57 511.30,636.16 511.38,636.76 511.48,637.36 511.59,637.97 511.72,638.58 511.86,639.19 512.02,639.81 512.20,640.43 512.39,641.06 512.60,641.68 512.82,642.32 513.05,642.95 513.31,643.59 513.58,644.23 513.86,644.87 514.16,645.51 514.47,646.16 514.81,646.81 515.15,647.46 515.51,648.11 515.89,648.76 516.29,649.42 516.70,650.07 517.12,650.73 517.56,651.38 518.02,652.04 518.49,652.69 518.97,653.35 519.48,654.00 519.99,654.66 520.53,655.31 521.07,655.96 521.64,656.62 522.22,657.27 522.81,657.91 523.42,658.56 524.04,659.20 524.68,659.85 525.33,660.49 526.00,661.12 526.68,661.76 527.38,662.39 528.09,663.02 528.82,663.64 529.56,664.27 530.31,664.88 531.08,665.50 531.86,666.11 532.66,666.71 533.47,667.32 534.29,667.91 535.13,668.50 535.98,669.09 536.84,669.67 537.72,670.25 538.61,670.82 539.51,671.38 540.42,671.94 541.35,672.50 542.29,673.04 543.24,673.58 544.21,674.12 545.18,674.64 546.17,675.16 547.17,675.68 548.18,676.18 549.20,676.68 550.23,677.17 551.27,677.66 552.33,678.13 553.39,678.60 554.46,679.06 555.55,679.51 556.64,679.95 557.75,680.39 558.86,680.81 559.98,681.23 561.12,681.64 562.26,682.04 563.41,682.43 564.56,682.81 565.73,683.18 566.91,683.54 568.09,683.89 569.28,684.23 570.47,684.57 571.68,684.89 572.89,685.20 574.11,685.51 575.33,685.80 576.57,686.08 577.80,686.35 579.05,686.61 580.29,686.86 581.55,687.11 582.81,687.33 584.07,687.55 585.34,687.76 586.61,687.96 587.89,688.14 589.17,688.32 590.46,688.48 591.75,688.64 593.04,688.78 594.33,688.91 595.63,689.03 596.93,689.14 598.23,689.23 599.54,689.32 600.84,689.39 602.15,689.46 603.46,689.51 604.77,689.55 606.08,689.58 607.39,689.59 608.70,689.60 607.39,689.61 606.08,689.62 604.77,689.65 603.46,689.69 602.15,689.74 600.84,689.81 599.54,689.88 598.23,689.97 596.93,690.06 595.63,690.17 594.33,690.29 593.04,690.42 591.75,690.56 590.46,690.72 589.17,690.88 587.89,691.06 586.61,691.24 585.34,691.44 584.07,691.65 582.81,691.87 581.55,692.09 580.29,692.34 579.05,692.59 577.80,692.85 576.57,693.12 575.33,693.40 574.11,693.69 572.89,694.00 571.68,694.31 570.47,694.63 569.28,694.97 568.09,695.31 566.91,695.66 565.73,696.02 564.56,696.39 563.41,696.77 562.26,697.16 561.12,697.56 559.98,697.97 558.86,698.39 557.75,698.81 556.64,699.25 555.55,699.69 554.46,700.14 553.39,700.60 552.33,701.07 551.27,701.54 550.23,702.03 549.20,702.52 548.18,703.02 547.17,703.52 546.17,704.04 545.18,704.56 544.21,705.08 543.24,705.62 542.29,706.16 541.35,706.70 540.42,707.26 539.51,707.82 538.61,708.38 537.72,708.95 536.84,709.53 535.98,710.11 535.13,710.70 534.29,711.29 533.47,711.88 532.66,712.49 531.86,713.09 531.08,713.70 530.31,714.32 529.56,714.93 528.82,715.56 528.09,716.18 527.38,716.81 526.68,717.44 526.00,718.08 525.33,718.71 524.68,719.35 524.04,720.00 523.42,720.64 522.81,721.29 522.22,721.93 521.64,722.58 521.07,723.24 520.53,723.89 519.99,724.54 519.48,725.20 518.97,725.85 518.49,726.51 518.02,727.16 517.56,727.82 517.12,728.47 516.70,729.13 516.29,729.78 515.89,730.44 515.51,731.09 515.15,731.74 514.81,732.39 514.47,733.04 514.16,733.69 513.86,734.33 513.58,734.97 513.31,735.61 513.05,736.25 512.82,736.88 512.60,737.52 512.39,738.14 512.20,738.77 512.02,739.39 511.86,740.01 511.72,740.62 511.59,741.23 511.48,741.84 511.38,742.44 511.30,743.04 511.23,743.63 511.18,744.22 511.14,744.80 511.12,745.37 511.11,745.94 511.12,746.51 511.14,747.07 511.18,747.62 511.23,748.17 511.29,748.71 511.37,749.24 511.47,749.77 511.58,750.29 511.70,750.80 511.84,751.31 511.99,751.81 512.16,752.30 512.33,752.78 512.53,753.26 512.73,753.72 512.95,754.18 513.18,754.63 513.43,755.08 513.69,755.51 513.96,755.94 514.25,756.35 514.54,756.76 514.85,757.16 515.17,757.55 515.51,757.93 515.85,758.30 516.21,758.67 516.58,759.02 516.96,759.36 517.35,759.69 517.76,760.02 518.17,760.33 518.60,760.63 519.03,760.92 519.48,761.21 519.94,761.48 520.41,761.74 520.88,761.99 521.37,762.23 521.87,762.46 522.38,762.68 522.89,762.89 523.42,763.08 523.95,763.27 524.50,763.45 525.05,763.61 525.61,763.76 526.18,763.90 526.75,764.03 527.34,764.15 527.93,764.26 528.53,764.36 529.14,764.45 529.75,764.52 530.37,764.58 531.00,764.63 531.63,764.67 532.28,764.70 532.92,764.72 533.58,764.73 534.23,764.72 534.90,764.70 535.57,764.67 536.24,764.63 536.92,764.58 537.60,764.52 538.29,764.45 538.99,764.36 539.68,764.26 540.38,764.15 541.09,764.03 541.80,763.90 542.51,763.76 543.22,763.61 543.94,763.45 544.66,763.27 545.38,763.08 546.11,762.89 546.83,762.68 547.56,762.46 548.29,762.23 549.03,761.99 549.76,761.74 550.49,761.48 551.23,761.21 551.97,760.92 552.70,760.63 553.44,760.33 554.18,760.02 554.92,759.69 555.65,759.36 556.39,759.02 557.13,758.67 557.86,758.30 558.60,757.93 559.33,757.55 560.06,757.16 560.79,756.76 561.52,756.35 562.25,755.94 562.98,755.51 563.70,755.08 564.42,754.63 565.14,754.18 565.85,753.72 566.57,753.26 567.28,752.78 567.98,752.30 568.69,751.81 569.39,751.31 570.08,750.80 570.78,750.29 571.47,749.77 572.15,749.24 572.83,748.71 573.51,748.17 574.18,747.62 574.85,747.07 575.51,746.51 576.17,745.94 576.82,745.37 577.47,744.80 578.11,744.22 578.75,743.63 579.38,743.04 580.01,742.44 580.63,741.84 581.25,741.23 581.86,740.62 582.46,740.01 583.06,739.39 583.65,738.77 584.23,738.14 584.81,737.52 585.38,736.88 585.95,736.25 586.51,735.61 587.06,734.97 587.60,734.33 588.14,733.69 588.67,733.04 589.20,732.39 589.72,731.74 590.23,731.09 590.73,730.44 591.23,729.78 591.72,729.13 592.20,728.47 592.67,727.82 593.14,727.16 593.60,726.51 594.05,725.85 594.50,725.20 594.94,724.54 595.37,723.89 595.79,723.24 596.20,722.58 596.61,721.93 597.01,721.29 597.40,720.64 597.79,720.00 598.16,719.35 598.53,718.71 598.90,718.08 599.25,717.44 599.60,716.81 599.94,716.18 600.27,715.56 600.59,714.93 600.91,714.32 601.22,713.70 601.52,713.09 601.81,712.49 602.10,711.88 602.38,711.29 602.65,710.70 602.92,710.11 603.17,709.53 603.42,708.95 603.67,708.38 603.90,707.82 604.13,707.26 604.36,706.70 604.57,706.16 604.78,705.62 604.98,705.08 605.18,704.56 605.37,704.04 605.55,703.52 605.73,703.02 605.89,702.52 606.06,702.03 606.22,701.54 606.37,701.07 606.51,700.60 606.65,700.14 606.78,699.69 606.91,699.25 607.03,698.81 607.15,698.39 607.26,697.97 607.37,697.56 607.47,697.16 607.56,696.77 607.65,696.39 607.74,696.02 607.82,695.66 607.90,695.31 607.97,694.97 608.04,694.63 608.10,694.31 608.16,694.00 608.22,693.69 608.27,693.40 608.31,693.12 608.36,692.85 608.40,692.59 608.44,692.34 608.47,692.09 608.50,691.87 608.53,691.65 608.56,691.44 608.58,691.24 608.60,691.06 608.62,690.88 608.63,690.72 608.65,690.56 608.66,690.42 608.67,690.29 608.68,690.17 608.68,690.06 608.69,689.97 608.69,689.88 608.69,689.81 608.70,689.74 608.70,689.69 608.70,689.65 608.70,689.62 608.70,689.61 608.70,689.60 608.70,689.61 608.70,689.62 608.70,689.65 608.70,689.69 608.70,689.74 608.71,689.81 608.71,689.88 608.71,689.97 608.72,690.06 608.72,690.17 608.73,690.29 608.74,690.42 608.75,690.56 608.77,690.72 608.78,690.88 608.80,691.06 608.82,691.24 608.84,691.44 608.87,691.65 608.90,691.87 608.93,692.09 608.96,692.34 609.00,692.59 609.04,692.85 609.09,693.12 609.13,693.40 609.18,693.69 609.24,694.00 609.30,694.31 609.36,694.63 609.43,694.97 609.50,695.31 609.58,695.66 609.66,696.02 609.75,696.39 609.84,696.77 609.93,697.16 610.03,697.56 610.14,697.97 610.25,698.39 610.37,698.81 610.49,699.25 610.62,699.69 610.75,700.14 610.89,700.60 611.03,701.07 611.18,701.54 611.34,702.03 611.51,702.52 611.67,703.02 611.85,703.52 612.03,704.04 612.22,704.56 612.42,705.08 612.62,705.62 612.83,706.16 613.04,706.70 613.27,707.26 613.50,707.82 613.73,708.38 613.98,708.95 614.23,709.53 614.48,710.11 614.75,710.70 615.02,711.29 615.30,711.88 615.59,712.49 615.88,713.09 616.18,713.70 616.49,714.32 616.81,714.93 617.13,715.56 617.46,716.18 617.80,716.81 618.15,717.44 618.50,718.08 618.87,718.71 619.24,719.35 619.61,720.00 620.00,720.64 620.39,721.29 620.79,721.93 621.20,722.58 621.61,723.24 622.03,723.89 622.46,724.54 622.90,725.20 623.35,725.85 623.80,726.51 624.26,727.16 624.73,727.82 625.20,728.47 625.68,729.13 626.17,729.78 626.67,730.44 627.17,731.09 627.68,731.74 628.20,732.39 628.73,733.04 629.26,733.69 629.80,734.33 630.34,734.97 630.89,735.61 631.45,736.25 632.02,736.88 632.59,737.52 633.17,738.14 633.75,738.77 634.34,739.39 634.94,740.01 635.54,740.62 636.15,741.23 636.77,741.84 637.39,742.44 638.02,743.04 638.65,743.63 639.29,744.22 639.93,744.80 640.58,745.37 641.23,745.94 641.89,746.51 642.55,747.07 643.22,747.62 643.89,748.17 644.57,748.71 645.25,749.24 645.93,749.77 646.62,750.29 647.32,750.80 648.01,751.31 648.71,751.81 649.42,752.30 650.12,752.78 650.83,753.26 651.55,753.72 652.26,754.18 652.98,754.63 653.70,755.08 654.42,755.51 655.15,755.94 655.88,756.35 656.61,756.76 657.34,757.16 658.07,757.55 658.80,757.93 659.54,758.30 660.27,758.67 661.01,759.02 661.75,759.36 662.48,759.69 663.22,760.02 663.96,760.33 664.70,760.63 665.43,760.92 666.17,761.21 666.91,761.48 667.64,761.74 668.37,761.99 669.11,762.23 669.84,762.46 670.57,762.68 671.29,762.89 672.02,763.08 672.74,763.27 673.46,763.45 674.18,763.61 674.89,763.76 675.60,763.90 676.31,764.03 677.02,764.15 677.72,764.26 678.41,764.36 679.11,764.45 679.80,764.52 680.48,764.58 681.16,764.63 681.83,764.67 682.50,764.70 683.17,764.72 683.83,764.73 684.48,764.72 685.12,764.70 685.77,764.67 686.40,764.63 687.03,764.58 687.65,764.52 688.26,764.45 688.87,764.36 689.47,764.26 690.06,764.15 690.65,764.03 691.22,763.90 691.79,763.76 692.35,763.61 692.90,763.45 693.45,763.27 693.98,763.08 694.51,762.89 695.02,762.68 695.53,762.46 696.03,762.23 696.52,761.99 696.99,761.74 697.46,761.48 697.92,761.21 698.37,760.92 698.80,760.63 699.23,760.33 699.64,760.02 700.05,759.69 700.44,759.36 700.82,759.02 701.19,758.67 701.55,758.30 701.89,757.93 702.23,757.55 702.55,757.16 702.86,756.76 703.15,756.35 703.44,755.94 703.71,755.51 703.97,755.08 704.22,754.63 704.45,754.18 704.67,753.72 704.87,753.26 705.07,752.78 705.24,752.30 705.41,751.81 705.56,751.31 705.70,750.80 705.82,750.29 705.93,749.77 706.03,749.24 706.11,748.71 706.17,748.17 706.22,747.62 706.26,747.07 706.28,746.51 706.29,745.94 706.28,745.37 706.26,744.80 706.22,744.22 706.17,743.63 706.10,743.04 706.02,742.44 705.92,741.84 705.81,741.23 705.68,740.62 705.54,740.01 705.38,739.39 705.20,738.77 705.01,738.14 704.80,737.52 704.58,736.88 704.35,736.25 704.09,735.61 703.82,734.97 703.54,734.33 703.24,733.69 702.93,733.04 702.59,732.39 702.25,731.74 701.89,731.09 701.51,730.44 701.11,729.78 700.70,729.13 700.28,728.47 699.84,727.82 699.38,727.16 698.91,726.51 698.43,725.85 697.92,725.20 697.41,724.54 696.87,723.89 696.33,723.24 695.76,722.58 695.18,721.93 694.59,721.29 693.98,720.64 693.36,720.00 692.72,719.35 692.07,718.71 691.40,718.08 690.72,717.44 690.02,716.81 689.31,716.18 688.58,715.56 687.84,714.93 687.09,714.32 686.32,713.70 685.54,713.09 684.74,712.49 683.93,711.88 683.11,711.29 682.27,710.70 681.42,710.11 680.56,709.53 679.68,708.95 678.79,708.38 677.89,707.82 676.98,707.26 676.05,706.70 675.11,706.16 674.16,705.62 673.19,705.08 672.22,704.56 671.23,704.04 670.23,703.52 669.22,703.02 668.20,702.52 667.17,702.03 666.13,701.54 665.07,701.07 664.01,700.60 662.94,700.14 661.85,699.69 660.76,699.25 659.65,698.81 658.54,698.39 657.42,697.97 656.28,697.56 655.14,697.16 653.99,696.77 652.84,696.39 651.67,696.02 650.49,695.66 649.31,695.31 648.12,694.97 646.93,694.63 645.72,694.31 644.51,694.00 643.29,693.69 642.07,693.40 640.83,693.12 639.60,692.85 638.35,692.59 637.11,692.34 635.85,692.09 634.59,691.87 633.33,691.65 632.06,691.44 630.79,691.24 629.51,691.06 628.23,690.88 626.94,690.72 625.65,690.56 624.36,690.42 623.07,690.29 621.77,690.17 620.47,690.06 619.17,689.97 617.86,689.88 616.56,689.81 615.25,689.74 613.94,689.69 612.63,689.65 611.32,689.62 610.01,689.61 608.70,689.60" fill="#c6daec" fill-opacity="0.62" stroke="#5a8cb2" stroke-width="1.4" stroke-linejoin="round"/><circle cx="635.70" cy="689.60" r="3.15" fill="#a8cbe4" stroke="#5287b0" stroke-width="1"/><circle cx="634.40" cy="687.35" r="3.15" fill="#a8cbe4" stroke="#5287b0" stroke-width="1"/><circle cx="642.77" cy="683.59" r="3.15" fill="#a8cbe4" stroke="#5287b0" stroke-width="1"/><circle cx="661.34" cy="675.49" r="3.15" fill="#a8cbe4" stroke="#5287b0" stroke-width="1"/><circle cx="676.08" cy="665.08" r="3.15" fill="#a8cbe4" stroke="#5287b0" stroke-width="1"/><circle cx="684.56" cy="654.23" r="3.15" fill="#a8cbe4" stroke="#5287b0" stroke-width="1"/><circle cx="687.08" cy="644.35" r="3.15" fill="#a8cbe4" stroke="#5287b0" stroke-width="1"/><circle cx="684.96" cy="636.20" r="3.15" fill="#a8cbe4" stroke="#5287b0" stroke-width="1"/><circle cx="680.78" cy="629.11" r="3.15" fill="#a8cbe4" stroke="#5287b0" stroke-width="1"/><circle cx="672.13" cy="626.17" r="3.15" fill="#a8cbe4" stroke="#5287b0" stroke-width="1"/><circle cx="662.95" cy="624.95" r="3.15" fill="#a8cbe4" stroke="#5287b0" stroke-width="1"/><circle cx="652.01" cy="627.75" r="3.15" fill="#a8cbe4" stroke="#5287b0" stroke-width="1"/><circle cx="640.85" cy="633.91" r="3.15" fill="#a8cbe4" stroke="#5287b0" stroke-width="1"/><circle cx="631.52" cy="640.66" r="3.15" fill="#a8cbe4" stroke="#5287b0" stroke-width="1"/><circle cx="624.60" cy="645.90" r="3.15" fill="#a8cbe4" stroke="#5287b0" stroke-width="1"/><circle cx="620.97" cy="643.82" r="3.15" fill="#a8cbe4" stroke="#5287b0" stroke-width="1"/><circle cx="616.76" cy="643.90" r="3.15" fill="#a8cbe4" stroke="#5287b0" stroke-width="1"/><circle cx="612.56" cy="645.47" r="3.15" fill="#a8cbe4" stroke="#5287b0" stroke-width="1"/><circle cx="608.70" cy="648.50" r="3.15" fill="#a8cbe4" stroke="#5287b0" stroke-width="1"/><circle cx="605.48" cy="652.74" r="3.15" fill="#a8cbe4" stroke="#5287b0" stroke-width="1"/><circle cx="602.62" cy="655.13" r="3.15" fill="#a8cbe4" stroke="#5287b0" stroke-width="1"/><circle cx="599.98" cy="657.05" r="3.15" fill="#a8cbe4" stroke="#5287b0" stroke-width="1"/><circle cx="594.78" cy="651.35" r="3.15" fill="#a8cbe4" stroke="#5287b0" stroke-width="1"/><circle cx="586.13" cy="641.20" r="3.15" fill="#a8cbe4" stroke="#5287b0" stroke-width="1"/><circle cx="573.80" cy="629.15" r="3.15" fill="#a8cbe4" stroke="#5287b0" stroke-width="1"/><circle cx="561.61" cy="622.35" r="3.15" fill="#a8cbe4" stroke="#5287b0" stroke-width="1"/><circle cx="548.86" cy="618.28" r="3.15" fill="#a8cbe4" stroke="#5287b0" stroke-width="1"/><circle cx="536.72" cy="617.62" r="3.15" fill="#a8cbe4" stroke="#5287b0" stroke-width="1"/><circle cx="525.51" cy="619.79" r="3.15" fill="#a8cbe4" stroke="#5287b0" stroke-width="1"/><circle cx="517.20" cy="625.53" r="3.15" fill="#a8cbe4" stroke="#5287b0" stroke-width="1"/><circle cx="513.70" cy="634.75" r="3.15" fill="#a8cbe4" stroke="#5287b0" stroke-width="1"/><circle cx="515.80" cy="646.28" r="3.15" fill="#a8cbe4" stroke="#5287b0" stroke-width="1"/><circle cx="525.91" cy="659.47" r="3.15" fill="#a8cbe4" stroke="#5287b0" stroke-width="1"/><circle cx="540.60" cy="671.35" r="3.15" fill="#a8cbe4" stroke="#5287b0" stroke-width="1"/><circle cx="561.04" cy="681.20" r="3.15" fill="#a8cbe4" stroke="#5287b0" stroke-width="1"/><circle cx="580.91" cy="687.17" r="3.15" fill="#a8cbe4" stroke="#5287b0" stroke-width="1"/><circle cx="589.50" cy="689.60" r="3.15" fill="#a8cbe4" stroke="#5287b0" stroke-width="1"/><circle cx="584.39" cy="691.73" r="3.15" fill="#a8cbe4" stroke="#5287b0" stroke-width="1"/><circle cx="569.21" cy="696.56" r="3.15" fill="#a8cbe4" stroke="#5287b0" stroke-width="1"/><circle cx="554.41" cy="704.15" r="3.15" fill="#a8cbe4" stroke="#5287b0" stroke-width="1"/><circle cx="541.14" cy="714.19" r="3.15" fill="#a8cbe4" stroke="#5287b0" stroke-width="1"/><circle cx="532.48" cy="725.14" r="3.15" fill="#a8cbe4" stroke="#5287b0" stroke-width="1"/><circle cx="530.06" cy="735.00" r="3.15" fill="#a8cbe4" stroke="#5287b0" stroke-width="1"/><circle cx="532.60" cy="742.89" r="3.15" fill="#a8cbe4" stroke="#5287b0" stroke-width="1"/><circle cx="538.99" cy="748.09" r="3.15" fill="#a8cbe4" stroke="#5287b0" stroke-width="1"/><circle cx="547.96" cy="750.34" r="3.15" fill="#a8cbe4" stroke="#5287b0" stroke-width="1"/><circle cx="557.47" cy="750.65" r="3.15" fill="#a8cbe4" stroke="#5287b0" stroke-width="1"/><circle cx="568.78" cy="746.61" r="3.15" fill="#a8cbe4" stroke="#5287b0" stroke-width="1"/><circle cx="580.20" cy="738.96" r="3.15" fill="#a8cbe4" stroke="#5287b0" stroke-width="1"/><circle cx="588.71" cy="732.47" r="3.15" fill="#a8cbe4" stroke="#5287b0" stroke-width="1"/><circle cx="594.23" cy="729.35" r="3.15" fill="#a8cbe4" stroke="#5287b0" stroke-width="1"/><circle cx="598.17" cy="728.91" r="3.15" fill="#a8cbe4" stroke="#5287b0" stroke-width="1"/><circle cx="601.86" cy="728.40" r="3.15" fill="#a8cbe4" stroke="#5287b0" stroke-width="1"/><circle cx="605.19" cy="729.75" r="3.15" fill="#a8cbe4" stroke="#5287b0" stroke-width="1"/><circle cx="608.70" cy="732.60" r="3.15" fill="#a8cbe4" stroke="#5287b0" stroke-width="1"/><circle cx="612.65" cy="734.73" r="3.15" fill="#a8cbe4" stroke="#5287b0" stroke-width="1"/><circle cx="617.07" cy="737.07" r="3.15" fill="#a8cbe4" stroke="#5287b0" stroke-width="1"/><circle cx="622.94" cy="742.73" r="3.15" fill="#a8cbe4" stroke="#5287b0" stroke-width="1"/><circle cx="631.10" cy="751.15" r="3.15" fill="#a8cbe4" stroke="#5287b0" stroke-width="1"/><circle cx="642.17" cy="761.38" r="3.15" fill="#a8cbe4" stroke="#5287b0" stroke-width="1"/><circle cx="653.95" cy="767.98" r="3.15" fill="#a8cbe4" stroke="#5287b0" stroke-width="1"/><circle cx="668.64" cy="775.20" r="3.15" fill="#a8cbe4" stroke="#5287b0" stroke-width="1"/><circle cx="681.08" cy="775.86" r="3.15" fill="#a8cbe4" stroke="#5287b0" stroke-width="1"/><circle cx="696.45" cy="777.35" r="3.15" fill="#a8cbe4" stroke="#5287b0" stroke-width="1"/><circle cx="708.06" cy="772.97" r="3.15" fill="#a8cbe4" stroke="#5287b0" stroke-width="1"/><circle cx="716.99" cy="765.43" r="3.15" fill="#a8cbe4" stroke="#5287b0" stroke-width="1"/><circle cx="720.16" cy="753.95" r="3.15" fill="#a8cbe4" stroke="#5287b0" stroke-width="1"/><circle cx="718.00" cy="740.57" r="3.15" fill="#a8cbe4" stroke="#5287b0" stroke-width="1"/><circle cx="709.81" cy="726.40" r="3.15" fill="#a8cbe4" stroke="#5287b0" stroke-width="1"/><circle cx="695.44" cy="712.84" r="3.15" fill="#a8cbe4" stroke="#5287b0" stroke-width="1"/><circle cx="676.16" cy="701.49" r="3.15" fill="#a8cbe4" stroke="#5287b0" stroke-width="1"/><circle cx="653.73" cy="693.54" r="3.15" fill="#a8cbe4" stroke="#5287b0" stroke-width="1"/><rect x="622.7" y="527.4" width="27.2" height="14" fill="#fff"/><rect x="611.5" y="605.6" width="23.0" height="12" fill="#fff"/><text x="631.0" y="542.0" font-family="Liberation Sans, Arial, Helvetica, sans-serif" font-size="24.5" fill="#3a3a3a">2</text><text x="617.3" y="619.1" font-family="Liberation Sans, Arial, Helvetica, sans-serif" font-size="21" fill="#3a3a3a">1</text><text x="609.8" y="520.9" font-family="Liberation Sans, Arial, Helvetica, sans-serif" font-size="25" fill="#3a3a3a" text-anchor="middle">c</text><text x="445.3" y="696.6" font-family="Liberation Sans, Arial, Helvetica, sans-serif" font-size="25" fill="#3a3a3a" text-anchor="end">a</text><path d="M441.2,655.8 A171,171 0 0 1 586.5,520.4" fill="none" stroke="#b8b8b8" stroke-width="1.8"/><path d="M580,512.5 L592,520.2 L579,525.8 L583,519.5 Z" fill="#b8b8b8"/><text x="484.2" y="555.2" font-family="Liberation Sans, Arial, Helvetica, sans-serif" font-size="26" fill="#a8a8a8" text-anchor="middle">&#952;</text><line x1="868.9" y1="691.3" x2="1182.1" y2="691.3" stroke="#c9c9c9" stroke-width="1.5"/><line x1="1025.5" y1="534.0" x2="1025.5" y2="847.2" stroke="#c9c9c9" stroke-width="1.6"/><line x1="1025.5" y1="691.3" x2="1136.2" y2="579.9" stroke="#4a4a4a" stroke-width="1"/><line x1="1025.5" y1="691.3" x2="914.8" y2="579.9" stroke="#4a4a4a" stroke-width="1"/><line x1="1025.5" y1="691.3" x2="914.8" y2="801.3" stroke="#4a4a4a" stroke-width="1"/><line x1="1025.5" y1="691.3" x2="1136.2" y2="801.3" stroke="#4a4a4a" stroke-width="1"/><circle cx="1025.5" cy="690.6" r="78.3" fill="none" stroke="#3a3a3a" stroke-width="1" stroke-dasharray="3.2,1.8"/><circle cx="1025.5" cy="690.6" r="156.6" fill="none" stroke="#303030" stroke-width="1.1"/><polygon points="1159.16,691.20 1159.11,690.62 1159.05,690.04 1158.98,689.46 1158.90,688.88 1158.81,688.30 1158.71,687.72 1158.59,687.14 1158.47,686.57 1158.34,685.99 1158.20,685.42 1158.05,684.85 1157.89,684.28 1157.72,683.71 1157.54,683.14 1157.34,682.58 1157.14,682.02 1156.93,681.46 1156.71,680.90 1156.48,680.34 1156.24,679.79 1155.99,679.24 1155.74,678.69 1155.47,678.14 1155.19,677.60 1154.90,677.06 1154.61,676.52 1154.30,675.99 1153.99,675.46 1153.66,674.93 1153.33,674.41 1152.99,673.89 1152.64,673.37 1152.28,672.86 1151.91,672.35 1151.53,671.85 1151.14,671.35 1150.75,670.85 1150.34,670.36 1149.93,669.87 1149.51,669.39 1149.08,668.91 1148.65,668.43 1148.20,667.96 1147.75,667.50 1147.29,667.03 1146.82,666.58 1146.34,666.13 1145.85,665.68 1145.36,665.24 1144.86,664.80 1144.36,664.37 1143.84,663.95 1143.32,663.53 1142.79,663.11 1142.25,662.70 1141.71,662.30 1141.16,661.90 1140.60,661.51 1140.04,661.12 1139.47,660.74 1138.89,660.37 1138.31,660.00 1137.72,659.64 1137.12,659.28 1136.52,658.93 1135.91,658.58 1135.30,658.24 1134.68,657.91 1134.05,657.59 1133.42,657.27 1132.79,656.95 1132.15,656.65 1131.50,656.34 1130.85,656.05 1130.19,655.76 1129.53,655.48 1128.87,655.21 1128.20,654.94 1127.52,654.68 1126.84,654.42 1126.16,654.18 1125.47,653.93 1124.78,653.70 1124.08,653.47 1123.38,653.25 1122.68,653.04 1121.97,652.83 1121.26,652.63 1120.55,652.44 1119.83,652.25 1119.11,652.07 1118.39,651.90 1117.67,651.73 1116.94,651.57 1116.21,651.42 1115.48,651.27 1114.74,651.14 1114.00,651.00 1113.26,650.88 1112.52,650.76 1111.78,650.65 1111.03,650.55 1110.29,650.45 1109.54,650.36 1108.79,650.27 1108.04,650.20 1107.29,650.13 1106.53,650.06 1105.78,650.01 1105.03,649.96 1104.27,649.91 1103.52,649.88 1102.76,649.85 1102.00,649.83 1101.25,649.81 1100.49,649.80 1099.73,649.80 1098.98,649.80 1098.22,649.81 1097.47,649.82 1096.71,649.85 1095.96,649.88 1095.20,649.91 1094.45,649.95 1093.70,650.00 1092.95,650.05 1092.20,650.11 1091.45,650.18 1090.70,650.25 1089.96,650.33 1089.21,650.41 1088.47,650.50 1087.73,650.60 1086.99,650.70 1086.25,650.81 1085.52,650.92 1084.79,651.04 1084.06,651.16 1083.33,651.29 1082.60,651.43 1081.88,651.57 1081.16,651.71 1080.45,651.86 1079.73,652.02 1079.02,652.18 1078.31,652.34 1077.61,652.51 1076.90,652.69 1076.21,652.87 1075.51,653.06 1074.82,653.24 1074.13,653.44 1073.45,653.64 1072.77,653.84 1072.09,654.05 1071.42,654.26 1070.75,654.48 1070.08,654.70 1069.42,654.92 1068.76,655.15 1068.11,655.38 1067.46,655.62 1066.82,655.86 1066.18,656.10 1065.54,656.35 1064.91,656.60 1064.29,656.85 1063.67,657.11 1063.05,657.37 1062.44,657.63 1061.83,657.89 1061.23,658.16 1060.63,658.44 1060.04,658.71 1059.45,658.99 1058.87,659.27 1058.29,659.55 1057.72,659.83 1057.15,660.12 1056.59,660.41 1056.03,660.70 1055.48,661.00 1054.94,661.29 1054.40,661.59 1053.86,661.89 1053.33,662.19 1052.81,662.49 1052.29,662.79 1051.78,663.10 1051.27,663.41 1050.77,663.71 1050.27,664.02 1049.78,664.33 1049.29,664.65 1048.81,664.96 1048.34,665.27 1047.87,665.58 1047.41,665.90 1046.95,666.21 1046.50,666.53 1046.06,666.85 1045.62,667.16 1045.18,667.48 1044.75,667.79 1044.33,668.11 1043.91,668.43 1043.50,668.74 1043.10,669.06 1042.70,669.38 1042.30,669.69 1041.92,670.01 1041.53,670.32 1041.16,670.64 1040.78,670.95 1040.42,671.26 1040.06,671.57 1039.70,671.89 1039.36,672.20 1039.01,672.50 1038.67,672.81 1038.34,673.12 1038.02,673.43 1037.70,673.73 1037.38,674.03 1037.07,674.33 1036.76,674.63 1036.47,674.93 1036.17,675.23 1035.88,675.52 1035.60,675.82 1035.32,676.11 1035.05,676.40 1034.78,676.69 1034.52,676.97 1034.26,677.26 1034.01,677.54 1033.76,677.82 1033.52,678.09 1033.28,678.37 1033.05,678.64 1032.82,678.91 1032.60,679.18 1032.38,679.44 1032.17,679.70 1031.96,679.96 1031.76,680.22 1031.56,680.48 1031.37,680.73 1031.18,680.98 1030.99,681.22 1030.81,681.47 1030.64,681.71 1030.46,681.95 1030.30,682.18 1030.13,682.41 1029.97,682.64 1029.82,682.87 1029.67,683.09 1029.52,683.31 1029.38,683.53 1029.24,683.74 1029.10,683.95 1028.97,684.16 1028.84,684.37 1028.72,684.57 1028.60,684.76 1028.48,684.96 1028.37,685.15 1028.26,685.34 1028.15,685.52 1028.05,685.71 1027.95,685.88 1027.85,686.06 1027.76,686.23 1027.67,686.40 1027.58,686.56 1027.49,686.73 1027.41,686.88 1027.33,687.04 1027.26,687.19 1027.19,687.34 1027.11,687.49 1027.05,687.63 1026.98,687.77 1026.92,687.90 1026.86,688.04 1026.80,688.17 1026.75,688.29 1026.69,688.41 1026.64,688.53 1026.59,688.65 1026.54,688.76 1026.50,688.87 1026.46,688.98 1026.42,689.08 1026.38,689.19 1026.34,689.28 1026.31,689.38 1026.27,689.47 1026.24,689.56 1026.21,689.65 1026.18,689.73 1026.15,689.81 1026.13,689.89 1026.10,689.96 1026.08,690.03 1026.06,690.10 1026.04,690.17 1026.02,690.23 1026.00,690.29 1025.98,690.35 1025.97,690.41 1025.95,690.46 1025.94,690.52 1025.93,690.56 1025.91,690.61 1025.90,690.66 1025.89,690.70 1025.88,690.74 1025.87,690.78 1025.87,690.81 1025.86,690.85 1025.85,690.88 1025.85,690.91 1025.84,690.93 1025.84,690.96 1025.83,690.99 1025.83,691.01 1025.82,691.03 1025.82,691.05 1025.82,691.07 1025.81,691.08 1025.81,691.10 1025.81,691.11 1025.81,691.12 1025.81,691.14 1025.81,691.15 1025.80,691.15 1025.80,691.16 1025.80,691.17 1025.80,691.18 1025.80,691.18 1025.80,691.19 1025.80,691.19 1025.80,691.19 1025.80,691.19 1025.80,691.20 1025.80,691.20 1025.80,691.20 1025.80,691.20 1025.80,691.20 1025.80,691.20 1025.80,691.20 1025.80,691.20 1025.80,691.20 1025.80,691.20 1025.80,691.20 1025.80,691.20 1025.80,691.20 1025.80,691.20 1025.80,691.20 1025.80,691.19 1025.80,691.19 1025.80,691.19 1025.80,691.19 1025.80,691.18 1025.80,691.18 1025.80,691.17 1025.80,691.16 1025.80,691.15 1025.80,691.15 1025.80,691.14 1025.80,691.12 1025.79,691.11 1025.79,691.10 1025.79,691.08 1025.79,691.07 1025.79,691.05 1025.79,691.03 1025.78,691.01 1025.78,690.98 1025.78,690.96 1025.77,690.93 1025.77,690.90 1025.76,690.87 1025.76,690.84 1025.75,690.81 1025.75,690.77 1025.74,690.73 1025.73,690.69 1025.73,690.65 1025.72,690.61 1025.71,690.56 1025.70,690.51 1025.69,690.46 1025.67,690.40 1025.66,690.34 1025.65,690.29 1025.63,690.22 1025.62,690.16 1025.60,690.09 1025.58,690.02 1025.56,689.95 1025.54,689.87 1025.52,689.79 1025.50,689.71 1025.47,689.63 1025.45,689.54 1025.42,689.45 1025.39,689.35 1025.36,689.26 1025.33,689.16 1025.30,689.06 1025.26,688.95 1025.22,688.84 1025.18,688.73 1025.14,688.61 1025.10,688.49 1025.06,688.37 1025.01,688.25 1024.96,688.12 1024.91,687.98 1024.86,687.85 1024.80,687.71 1024.74,687.57 1024.68,687.42 1024.62,687.27 1024.55,687.12 1024.49,686.97 1024.41,686.81 1024.34,686.64 1024.27,686.48 1024.19,686.31 1024.11,686.13 1024.02,685.96 1023.93,685.78 1023.84,685.60 1023.75,685.41 1023.65,685.22 1023.55,685.02 1023.45,684.83 1023.34,684.63 1023.23,684.42 1023.12,684.22 1023.00,684.00 1022.88,683.79 1022.76,683.57 1022.63,683.35 1022.50,683.13 1022.36,682.90 1022.22,682.67 1022.08,682.44 1021.93,682.20 1021.78,681.96 1021.63,681.72 1021.47,681.47 1021.30,681.22 1021.14,680.97 1020.96,680.71 1020.79,680.45 1020.61,680.19 1020.42,679.93 1020.23,679.66 1020.04,679.39 1019.84,679.11 1019.64,678.84 1019.43,678.56 1019.22,678.28 1019.00,677.99 1018.78,677.71 1018.55,677.42 1018.32,677.13 1018.08,676.83 1017.84,676.53 1017.59,676.24 1017.34,675.93 1017.08,675.63 1016.82,675.33 1016.55,675.02 1016.28,674.71 1016.00,674.40 1015.72,674.08 1015.43,673.77 1015.13,673.45 1014.84,673.13 1014.53,672.81 1014.22,672.49 1013.91,672.16 1013.58,671.84 1013.26,671.51 1012.93,671.18 1012.59,670.86 1012.24,670.52 1011.90,670.19 1011.54,669.86 1011.18,669.53 1010.82,669.19 1010.44,668.86 1010.07,668.52 1009.68,668.19 1009.30,667.85 1008.90,667.51 1008.50,667.17 1008.10,666.83 1007.69,666.50 1007.27,666.16 1006.85,665.82 1006.42,665.48 1005.98,665.14 1005.54,664.80 1005.10,664.46 1004.65,664.13 1004.19,663.79 1003.73,663.45 1003.26,663.12 1002.79,662.78 1002.31,662.45 1001.82,662.11 1001.33,661.78 1000.83,661.45 1000.33,661.12 999.82,660.79 999.31,660.46 998.79,660.13 998.27,659.81 997.74,659.48 997.20,659.16 996.66,658.84 996.12,658.52 995.57,658.21 995.01,657.89 994.45,657.58 993.88,657.27 993.31,656.96 992.73,656.66 992.15,656.35 991.56,656.05 990.97,655.76 990.37,655.46 989.77,655.17 989.16,654.88 988.55,654.60 987.94,654.31 987.31,654.03 986.69,653.76 986.06,653.49 985.42,653.22 984.78,652.95 984.14,652.69 983.49,652.43 982.84,652.17 982.18,651.92 981.52,651.68 980.85,651.43 980.18,651.20 979.51,650.96 978.83,650.73 978.15,650.51 977.47,650.28 976.78,650.07 976.09,649.86 975.39,649.65 974.70,649.45 973.99,649.25 973.29,649.06 972.58,648.87 971.87,648.68 971.16,648.51 970.44,648.33 969.72,648.17 969.00,648.01 968.27,647.85 967.54,647.70 966.81,647.55 966.08,647.41 965.35,647.28 964.61,647.15 963.87,647.03 963.13,646.91 962.39,646.80 961.64,646.69 960.90,646.60 960.15,646.50 959.40,646.42 958.65,646.33 957.90,646.26 957.15,646.19 956.40,646.13 955.64,646.07 954.89,646.03 954.13,645.98 953.38,645.95 952.62,645.92 951.87,645.89 951.11,645.88 950.35,645.87 949.60,645.86 948.84,645.87 948.08,645.88 947.33,645.89 946.57,645.92 945.82,645.95 945.07,645.99 944.31,646.03 943.56,646.08 942.81,646.14 942.06,646.21 941.31,646.28 940.57,646.36 939.82,646.44 939.08,646.54 938.34,646.64 937.60,646.74 936.86,646.86 936.12,646.98 935.39,647.10 934.66,647.24 933.93,647.38 933.21,647.53 932.49,647.69 931.77,647.85 931.05,648.02 930.34,648.20 929.63,648.38 928.92,648.57 928.22,648.77 927.52,648.97 926.82,649.19 926.13,649.40 925.44,649.63 924.76,649.86 924.08,650.10 923.40,650.35 922.73,650.60 922.07,650.86 921.41,651.13 920.75,651.40 920.10,651.68 919.45,651.97 918.81,652.26 918.18,652.56 917.55,652.86 916.92,653.18 916.30,653.50 915.69,653.82 915.08,654.15 914.48,654.49 913.88,654.84 913.29,655.19 912.71,655.54 912.13,655.91 911.56,656.27 911.00,656.65 910.44,657.03 909.89,657.42 909.35,657.81 908.81,658.21 908.28,658.61 907.76,659.02 907.25,659.43 906.74,659.85 906.24,660.28 905.75,660.71 905.26,661.15 904.78,661.59 904.31,662.03 903.85,662.49 903.40,662.94 902.95,663.40 902.52,663.87 902.09,664.34 901.67,664.81 901.26,665.29 900.85,665.78 900.46,666.27 900.07,666.76 899.69,667.26 899.32,667.76 898.96,668.26 898.61,668.77 898.27,669.29 897.94,669.80 897.61,670.32 897.30,670.85 896.99,671.37 896.70,671.91 896.41,672.44 896.13,672.98 895.86,673.52 895.61,674.06 895.36,674.61 895.12,675.15 894.89,675.71 894.67,676.26 894.46,676.82 894.26,677.37 894.06,677.93 893.88,678.50 893.71,679.06 893.55,679.63 893.40,680.20 893.26,680.77 893.13,681.34 893.01,681.91 892.89,682.49 892.79,683.06 892.70,683.64 892.62,684.22 892.55,684.80 892.49,685.38 892.44,685.96 892.40,686.54 892.37,687.12 892.35,687.71 892.34,688.29 892.34,688.87 892.35,689.45 892.37,690.04 892.40,690.62 892.44,691.20 892.49,691.78 892.55,692.36 892.62,692.94 892.70,693.52 892.79,694.10 892.89,694.68 893.01,695.26 893.13,695.83 893.26,696.41 893.40,696.98 893.55,697.55 893.71,698.12 893.88,698.69 894.06,699.26 894.26,699.82 894.46,700.38 894.67,700.94 894.89,701.50 895.12,702.06 895.36,702.61 895.61,703.16 895.86,703.71 896.13,704.26 896.41,704.80 896.70,705.34 896.99,705.88 897.30,706.41 897.61,706.94 897.94,707.47 898.27,707.99 898.61,708.51 898.96,709.03 899.32,709.54 899.69,710.05 900.07,710.55 900.46,711.05 900.85,711.55 901.26,712.04 901.67,712.53 902.09,713.01 902.52,713.49 902.95,713.97 903.40,714.44 903.85,714.90 904.31,715.37 904.78,715.82 905.26,716.27 905.75,716.72 906.24,717.16 906.74,717.60 907.24,718.03 907.76,718.45 908.28,718.87 908.81,719.29 909.35,719.70 909.89,720.10 910.44,720.50 911.00,720.89 911.56,721.28 912.13,721.66 912.71,722.03 913.29,722.40 913.88,722.76 914.48,723.12 915.08,723.47 915.69,723.82 916.30,724.16 916.92,724.49 917.55,724.81 918.18,725.13 918.81,725.45 919.45,725.75 920.10,726.06 920.75,726.35 921.41,726.64 922.07,726.92 922.73,727.19 923.40,727.46 924.08,727.72 924.76,727.98 925.44,728.22 926.13,728.47 926.82,728.70 927.52,728.93 928.22,729.15 928.92,729.36 929.63,729.57 930.34,729.77 931.05,729.96 931.77,730.15 932.49,730.33 933.21,730.50 933.93,730.67 934.66,730.83 935.39,730.98 936.12,731.13 936.86,731.26 937.60,731.40 938.34,731.52 939.08,731.64 939.82,731.75 940.57,731.85 941.31,731.95 942.06,732.04 942.81,732.13 943.56,732.20 944.31,732.27 945.07,732.34 945.82,732.39 946.57,732.44 947.33,732.49 948.08,732.52 948.84,732.55 949.60,732.57 950.35,732.59 951.11,732.60 951.87,732.60 952.62,732.60 953.38,732.59 954.13,732.58 954.89,732.55 955.64,732.52 956.40,732.49 957.15,732.45 957.90,732.40 958.65,732.35 959.40,732.29 960.15,732.22 960.90,732.15 961.64,732.07 962.39,731.99 963.13,731.90 963.87,731.80 964.61,731.70 965.35,731.59 966.08,731.48 966.81,731.36 967.54,731.24 968.27,731.11 969.00,730.97 969.72,730.83 970.44,730.69 971.15,730.54 971.87,730.38 972.58,730.22 973.29,730.06 973.99,729.89 974.70,729.71 975.39,729.53 976.09,729.34 976.78,729.16 977.47,728.96 978.15,728.76 978.83,728.56 979.51,728.35 980.18,728.14 980.85,727.92 981.52,727.70 982.18,727.48 982.84,727.25 983.49,727.02 984.14,726.78 984.78,726.54 985.42,726.30 986.06,726.05 986.69,725.80 987.31,725.55 987.93,725.29 988.55,725.03 989.16,724.77 989.77,724.51 990.37,724.24 990.97,723.96 991.56,723.69 992.15,723.41 992.73,723.13 993.31,722.85 993.88,722.57 994.45,722.28 995.01,721.99 995.57,721.70 996.12,721.40 996.66,721.11 997.20,720.81 997.74,720.51 998.27,720.21 998.79,719.91 999.31,719.61 999.82,719.30 1000.33,718.99 1000.83,718.69 1001.33,718.38 1001.82,718.07 1002.31,717.75 1002.79,717.44 1003.26,717.13 1003.73,716.82 1004.19,716.50 1004.65,716.19 1005.10,715.87 1005.54,715.55 1005.98,715.24 1006.42,714.92 1006.85,714.61 1007.27,714.29 1007.69,713.97 1008.10,713.66 1008.50,713.34 1008.90,713.02 1009.30,712.71 1009.68,712.39 1010.07,712.08 1010.44,711.76 1010.82,711.45 1011.18,711.14 1011.54,710.83 1011.90,710.51 1012.24,710.20 1012.59,709.90 1012.93,709.59 1013.26,709.28 1013.58,708.97 1013.90,708.67 1014.22,708.37 1014.53,708.07 1014.84,707.77 1015.13,707.47 1015.43,707.17 1015.72,706.88 1016.00,706.58 1016.28,706.29 1016.55,706.00 1016.82,705.71 1017.08,705.43 1017.34,705.14 1017.59,704.86 1017.84,704.58 1018.08,704.31 1018.32,704.03 1018.55,703.76 1018.78,703.49 1019.00,703.22 1019.22,702.96 1019.43,702.70 1019.64,702.44 1019.84,702.18 1020.04,701.92 1020.23,701.67 1020.42,701.42 1020.61,701.18 1020.79,700.93 1020.96,700.69 1021.14,700.45 1021.30,700.22 1021.47,699.99 1021.63,699.76 1021.78,699.53 1021.93,699.31 1022.08,699.09 1022.22,698.87 1022.36,698.66 1022.50,698.45 1022.63,698.24 1022.76,698.03 1022.88,697.83 1023.00,697.64 1023.12,697.44 1023.23,697.25 1023.34,697.06 1023.45,696.88 1023.55,696.69 1023.65,696.52 1023.75,696.34 1023.84,696.17 1023.93,696.00 1024.02,695.84 1024.11,695.67 1024.19,695.52 1024.27,695.36 1024.34,695.21 1024.41,695.06 1024.49,694.91 1024.55,694.77 1024.62,694.63 1024.68,694.50 1024.74,694.36 1024.80,694.23 1024.85,694.11 1024.91,693.99 1024.96,693.87 1025.01,693.75 1025.06,693.64 1025.10,693.53 1025.14,693.42 1025.18,693.32 1025.22,693.21 1025.26,693.12 1025.29,693.02 1025.33,692.93 1025.36,692.84 1025.39,692.75 1025.42,692.67 1025.45,692.59 1025.47,692.51 1025.50,692.44 1025.52,692.37 1025.54,692.30 1025.56,692.23 1025.58,692.17 1025.60,692.11 1025.62,692.05 1025.63,691.99 1025.65,691.94 1025.66,691.88 1025.67,691.84 1025.69,691.79 1025.70,691.74 1025.71,691.70 1025.72,691.66 1025.73,691.62 1025.73,691.59 1025.74,691.55 1025.75,691.52 1025.75,691.49 1025.76,691.47 1025.76,691.44 1025.77,691.41 1025.77,691.39 1025.78,691.37 1025.78,691.35 1025.78,691.33 1025.79,691.32 1025.79,691.30 1025.79,691.29 1025.79,691.28 1025.79,691.26 1025.79,691.25 1025.80,691.25 1025.80,691.24 1025.80,691.23 1025.80,691.22 1025.80,691.22 1025.80,691.21 1025.80,691.21 1025.80,691.21 1025.80,691.21 1025.80,691.20 1025.80,691.20 1025.80,691.20 1025.80,691.20 1025.80,691.20 1025.80,691.20 1025.80,691.20 1025.80,691.20 1025.80,691.20 1025.80,691.20 1025.80,691.20 1025.80,691.20 1025.80,691.20 1025.80,691.20 1025.80,691.20 1025.80,691.21 1025.80,691.21 1025.80,691.21 1025.80,691.21 1025.80,691.22 1025.80,691.22 1025.80,691.23 1025.80,691.24 1025.80,691.25 1025.80,691.25 1025.80,691.26 1025.80,691.28 1025.81,691.29 1025.81,691.30 1025.81,691.32 1025.81,691.33 1025.81,691.35 1025.81,691.37 1025.82,691.39 1025.82,691.42 1025.82,691.44 1025.83,691.47 1025.83,691.50 1025.84,691.53 1025.84,691.56 1025.85,691.59 1025.85,691.63 1025.86,691.67 1025.87,691.71 1025.87,691.75 1025.88,691.79 1025.89,691.84 1025.90,691.89 1025.91,691.94 1025.93,692.00 1025.94,692.06 1025.95,692.11 1025.97,692.18 1025.98,692.24 1026.00,692.31 1026.02,692.38 1026.04,692.45 1026.06,692.53 1026.08,692.61 1026.10,692.69 1026.13,692.77 1026.15,692.86 1026.18,692.95 1026.21,693.05 1026.24,693.14 1026.27,693.24 1026.30,693.34 1026.34,693.45 1026.38,693.56 1026.42,693.67 1026.46,693.79 1026.50,693.91 1026.54,694.03 1026.59,694.15 1026.64,694.28 1026.69,694.42 1026.74,694.55 1026.80,694.69 1026.86,694.83 1026.92,694.98 1026.98,695.13 1027.05,695.28 1027.11,695.43 1027.19,695.59 1027.26,695.76 1027.33,695.92 1027.41,696.09 1027.49,696.27 1027.58,696.44 1027.67,696.62 1027.76,696.80 1027.85,696.99 1027.95,697.18 1028.05,697.38 1028.15,697.57 1028.26,697.77 1028.37,697.98 1028.48,698.18 1028.60,698.40 1028.72,698.61 1028.84,698.83 1028.97,699.05 1029.10,699.27 1029.24,699.50 1029.38,699.73 1029.52,699.96 1029.67,700.20 1029.82,700.44 1029.97,700.68 1030.13,700.93 1030.30,701.18 1030.46,701.43 1030.64,701.69 1030.81,701.95 1030.99,702.21 1031.18,702.47 1031.37,702.74 1031.56,703.01 1031.76,703.29 1031.96,703.56 1032.17,703.84 1032.38,704.12 1032.60,704.41 1032.82,704.69 1033.05,704.98 1033.28,705.27 1033.52,705.57 1033.76,705.87 1034.01,706.16 1034.26,706.47 1034.52,706.77 1034.78,707.07 1035.05,707.38 1035.32,707.69 1035.60,708.00 1035.88,708.32 1036.17,708.63 1036.47,708.95 1036.76,709.27 1037.07,709.59 1037.38,709.91 1037.69,710.24 1038.02,710.56 1038.34,710.89 1038.67,711.22 1039.01,711.54 1039.36,711.88 1039.70,712.21 1040.06,712.54 1040.42,712.87 1040.78,713.21 1041.16,713.54 1041.53,713.88 1041.92,714.21 1042.30,714.55 1042.70,714.89 1043.10,715.23 1043.50,715.57 1043.91,715.90 1044.33,716.24 1044.75,716.58 1045.18,716.92 1045.62,717.26 1046.06,717.60 1046.50,717.94 1046.95,718.27 1047.41,718.61 1047.87,718.95 1048.34,719.28 1048.81,719.62 1049.29,719.95 1049.78,720.29 1050.27,720.62 1050.77,720.95 1051.27,721.28 1051.78,721.61 1052.29,721.94 1052.81,722.27 1053.33,722.59 1053.86,722.92 1054.40,723.24 1054.94,723.56 1055.48,723.88 1056.03,724.19 1056.59,724.51 1057.15,724.82 1057.72,725.13 1058.29,725.44 1058.87,725.74 1059.45,726.05 1060.04,726.35 1060.63,726.64 1061.23,726.94 1061.83,727.23 1062.44,727.52 1063.05,727.80 1063.66,728.09 1064.29,728.37 1064.91,728.64 1065.54,728.91 1066.18,729.18 1066.82,729.45 1067.46,729.71 1068.11,729.97 1068.76,730.23 1069.42,730.48 1070.08,730.72 1070.75,730.97 1071.42,731.20 1072.09,731.44 1072.77,731.67 1073.45,731.89 1074.13,732.12 1074.82,732.33 1075.51,732.54 1076.21,732.75 1076.90,732.95 1077.61,733.15 1078.31,733.34 1079.02,733.53 1079.73,733.72 1080.44,733.89 1081.16,734.07 1081.88,734.23 1082.60,734.39 1083.33,734.55 1084.06,734.70 1084.79,734.85 1085.52,734.99 1086.25,735.12 1086.99,735.25 1087.73,735.37 1088.47,735.49 1089.21,735.60 1089.96,735.71 1090.70,735.80 1091.45,735.90 1092.20,735.98 1092.95,736.07 1093.70,736.14 1094.45,736.21 1095.20,736.27 1095.96,736.33 1096.71,736.37 1097.47,736.42 1098.22,736.45 1098.98,736.48 1099.73,736.51 1100.49,736.52 1101.25,736.53 1102.00,736.54 1102.76,736.53 1103.52,736.52 1104.27,736.51 1105.03,736.48 1105.78,736.45 1106.53,736.41 1107.29,736.37 1108.04,736.32 1108.79,736.26 1109.54,736.19 1110.29,736.12 1111.03,736.04 1111.78,735.96 1112.52,735.86 1113.26,735.76 1114.00,735.66 1114.74,735.54 1115.48,735.42 1116.21,735.30 1116.94,735.16 1117.67,735.02 1118.39,734.87 1119.11,734.71 1119.83,734.55 1120.55,734.38 1121.26,734.20 1121.97,734.02 1122.68,733.83 1123.38,733.63 1124.08,733.43 1124.78,733.21 1125.47,733.00 1126.16,732.77 1126.84,732.54 1127.52,732.30 1128.20,732.05 1128.87,731.80 1129.53,731.54 1130.19,731.27 1130.85,731.00 1131.50,730.72 1132.15,730.43 1132.79,730.14 1133.42,729.84 1134.05,729.54 1134.68,729.22 1135.30,728.90 1135.91,728.58 1136.52,728.25 1137.12,727.91 1137.72,727.56 1138.31,727.21 1138.89,726.86 1139.47,726.49 1140.04,726.13 1140.60,725.75 1141.16,725.37 1141.71,724.98 1142.25,724.59 1142.79,724.19 1143.32,723.79 1143.84,723.38 1144.35,722.97 1144.86,722.55 1145.36,722.12 1145.85,721.69 1146.34,721.25 1146.82,720.81 1147.29,720.37 1147.75,719.91 1148.20,719.46 1148.65,719.00 1149.08,718.53 1149.51,718.06 1149.93,717.59 1150.34,717.11 1150.75,716.62 1151.14,716.13 1151.53,715.64 1151.91,715.14 1152.28,714.64 1152.64,714.14 1152.99,713.63 1153.33,713.11 1153.66,712.60 1153.99,712.08 1154.30,711.55 1154.61,711.03 1154.90,710.49 1155.19,709.96 1155.47,709.42 1155.74,708.88 1155.99,708.34 1156.24,707.79 1156.48,707.25 1156.71,706.69 1156.93,706.14 1157.14,705.58 1157.34,705.03 1157.54,704.47 1157.72,703.90 1157.89,703.34 1158.05,702.77 1158.20,702.20 1158.34,701.63 1158.47,701.06 1158.59,700.49 1158.71,699.91 1158.81,699.34 1158.90,698.76 1158.98,698.18 1159.05,697.60 1159.11,697.02 1159.16,696.44 1159.20,695.86 1159.23,695.28 1159.25,694.69 1159.26,694.11 1159.26,693.53 1159.25,692.95 1159.23,692.36 1159.20,691.78 1159.16,691.20" fill="#eec4c4" fill-opacity="0.62" stroke="#a63a35" stroke-width="1.4" stroke-linejoin="round"/><circle cx="1161.80" cy="691.20" r="3.15" fill="#f7bab6" stroke="#a63e39" stroke-width="1"/><circle cx="1159.39" cy="679.51" r="3.15" fill="#f7bab6" stroke="#a63e39" stroke-width="1"/><circle cx="1151.76" cy="668.99" r="3.15" fill="#f7bab6" stroke="#a63e39" stroke-width="1"/><circle cx="1140.26" cy="660.53" r="3.15" fill="#f7bab6" stroke="#a63e39" stroke-width="1"/><circle cx="1126.72" cy="654.47" r="3.15" fill="#f7bab6" stroke="#a63e39" stroke-width="1"/><circle cx="1111.45" cy="651.26" r="3.15" fill="#f7bab6" stroke="#a63e39" stroke-width="1"/><circle cx="1096.29" cy="650.50" r="3.15" fill="#f7bab6" stroke="#a63e39" stroke-width="1"/><circle cx="1080.77" cy="652.71" r="3.15" fill="#f7bab6" stroke="#a63e39" stroke-width="1"/><circle cx="1068.78" cy="655.14" r="3.15" fill="#f7bab6" stroke="#a63e39" stroke-width="1"/><circle cx="1055.78" cy="661.22" r="3.15" fill="#f7bab6" stroke="#a63e39" stroke-width="1"/><circle cx="1046.11" cy="666.99" r="3.15" fill="#f7bab6" stroke="#a63e39" stroke-width="1"/><circle cx="1038.59" cy="672.93" r="3.15" fill="#f7bab6" stroke="#a63e39" stroke-width="1"/><circle cx="1033.90" cy="677.17" r="3.15" fill="#f7bab6" stroke="#a63e39" stroke-width="1"/><circle cx="1030.70" cy="680.69" r="3.15" fill="#f7bab6" stroke="#a63e39" stroke-width="1"/><circle cx="1028.54" cy="683.68" r="3.15" fill="#f7bab6" stroke="#a63e39" stroke-width="1"/><circle cx="1027.35" cy="685.40" r="3.15" fill="#f7bab6" stroke="#a63e39" stroke-width="1"/><circle cx="1026.67" cy="686.28" r="3.15" fill="#f7bab6" stroke="#a63e39" stroke-width="1"/><circle cx="1026.19" cy="686.72" r="3.15" fill="#f7bab6" stroke="#a63e39" stroke-width="1"/><circle cx="1025.80" cy="686.70" r="3.15" fill="#f7bab6" stroke="#a63e39" stroke-width="1"/><circle cx="1025.41" cy="686.72" r="3.15" fill="#f7bab6" stroke="#a63e39" stroke-width="1"/><circle cx="1024.93" cy="686.28" r="3.15" fill="#f7bab6" stroke="#a63e39" stroke-width="1"/><circle cx="1024.25" cy="685.40" r="3.15" fill="#f7bab6" stroke="#a63e39" stroke-width="1"/><circle cx="1023.23" cy="684.15" r="3.15" fill="#f7bab6" stroke="#a63e39" stroke-width="1"/><circle cx="1022.12" cy="683.32" r="3.15" fill="#f7bab6" stroke="#a63e39" stroke-width="1"/><circle cx="1018.30" cy="678.21" r="3.15" fill="#f7bab6" stroke="#a63e39" stroke-width="1"/><circle cx="1012.89" cy="672.77" r="3.15" fill="#f7bab6" stroke="#a63e39" stroke-width="1"/><circle cx="1004.97" cy="666.38" r="3.15" fill="#f7bab6" stroke="#a63e39" stroke-width="1"/><circle cx="994.48" cy="659.88" r="3.15" fill="#f7bab6" stroke="#a63e39" stroke-width="1"/><circle cx="982.21" cy="654.63" r="3.15" fill="#f7bab6" stroke="#a63e39" stroke-width="1"/><circle cx="969.03" cy="651.45" r="3.15" fill="#f7bab6" stroke="#a63e39" stroke-width="1"/><circle cx="953.49" cy="649.45" r="3.15" fill="#f7bab6" stroke="#a63e39" stroke-width="1"/><circle cx="938.52" cy="650.50" r="3.15" fill="#f7bab6" stroke="#a63e39" stroke-width="1"/><circle cx="923.37" cy="653.92" r="3.15" fill="#f7bab6" stroke="#a63e39" stroke-width="1"/><circle cx="912.30" cy="660.79" r="3.15" fill="#f7bab6" stroke="#a63e39" stroke-width="1"/><circle cx="903.09" cy="669.56" r="3.15" fill="#f7bab6" stroke="#a63e39" stroke-width="1"/><circle cx="898.09" cy="680.03" r="3.15" fill="#f7bab6" stroke="#a63e39" stroke-width="1"/><circle cx="897.50" cy="691.20" r="3.15" fill="#f7bab6" stroke="#a63e39" stroke-width="1"/><circle cx="898.69" cy="702.32" r="3.15" fill="#f7bab6" stroke="#a63e39" stroke-width="1"/><circle cx="907.52" cy="712.06" r="3.15" fill="#f7bab6" stroke="#a63e39" stroke-width="1"/><circle cx="916.84" cy="720.39" r="3.15" fill="#f7bab6" stroke="#a63e39" stroke-width="1"/><circle cx="930.05" cy="726.05" r="3.15" fill="#f7bab6" stroke="#a63e39" stroke-width="1"/><circle cx="941.88" cy="730.33" r="3.15" fill="#f7bab6" stroke="#a63e39" stroke-width="1"/><circle cx="954.87" cy="732.15" r="3.15" fill="#f7bab6" stroke="#a63e39" stroke-width="1"/><circle cx="968.87" cy="731.06" r="3.15" fill="#f7bab6" stroke="#a63e39" stroke-width="1"/><circle cx="981.52" cy="728.35" r="3.15" fill="#f7bab6" stroke="#a63e39" stroke-width="1"/><circle cx="994.05" cy="722.95" r="3.15" fill="#f7bab6" stroke="#a63e39" stroke-width="1"/><circle cx="1003.37" cy="717.93" r="3.15" fill="#f7bab6" stroke="#a63e39" stroke-width="1"/><circle cx="1012.09" cy="710.78" r="3.15" fill="#f7bab6" stroke="#a63e39" stroke-width="1"/><circle cx="1016.85" cy="706.70" r="3.15" fill="#f7bab6" stroke="#a63e39" stroke-width="1"/><circle cx="1020.31" cy="702.98" r="3.15" fill="#f7bab6" stroke="#a63e39" stroke-width="1"/><circle cx="1022.69" cy="699.75" r="3.15" fill="#f7bab6" stroke="#a63e39" stroke-width="1"/><circle cx="1023.99" cy="697.96" r="3.15" fill="#f7bab6" stroke="#a63e39" stroke-width="1"/><circle cx="1024.84" cy="696.62" r="3.15" fill="#f7bab6" stroke="#a63e39" stroke-width="1"/><circle cx="1025.36" cy="696.18" r="3.15" fill="#f7bab6" stroke="#a63e39" stroke-width="1"/><circle cx="1025.80" cy="695.70" r="3.15" fill="#f7bab6" stroke="#a63e39" stroke-width="1"/><circle cx="1026.24" cy="696.18" r="3.15" fill="#f7bab6" stroke="#a63e39" stroke-width="1"/><circle cx="1026.84" cy="697.11" r="3.15" fill="#f7bab6" stroke="#a63e39" stroke-width="1"/><circle cx="1027.87" cy="698.93" r="3.15" fill="#f7bab6" stroke="#a63e39" stroke-width="1"/><circle cx="1029.66" cy="701.82" r="3.15" fill="#f7bab6" stroke="#a63e39" stroke-width="1"/><circle cx="1032.98" cy="706.61" r="3.15" fill="#f7bab6" stroke="#a63e39" stroke-width="1"/><circle cx="1038.40" cy="713.02" r="3.15" fill="#f7bab6" stroke="#a63e39" stroke-width="1"/><circle cx="1046.10" cy="720.20" r="3.15" fill="#f7bab6" stroke="#a63e39" stroke-width="1"/><circle cx="1055.69" cy="726.82" r="3.15" fill="#f7bab6" stroke="#a63e39" stroke-width="1"/><circle cx="1067.02" cy="732.42" r="3.15" fill="#f7bab6" stroke="#a63e39" stroke-width="1"/><circle cx="1080.96" cy="737.48" r="3.15" fill="#f7bab6" stroke="#a63e39" stroke-width="1"/><circle cx="1095.43" cy="739.95" r="3.15" fill="#f7bab6" stroke="#a63e39" stroke-width="1"/><circle cx="1110.41" cy="740.05" r="3.15" fill="#f7bab6" stroke="#a63e39" stroke-width="1"/><circle cx="1124.32" cy="737.14" r="3.15" fill="#f7bab6" stroke="#a63e39" stroke-width="1"/><circle cx="1139.13" cy="732.45" r="3.15" fill="#f7bab6" stroke="#a63e39" stroke-width="1"/><circle cx="1151.37" cy="724.85" r="3.15" fill="#f7bab6" stroke="#a63e39" stroke-width="1"/><circle cx="1158.55" cy="714.61" r="3.15" fill="#f7bab6" stroke="#a63e39" stroke-width="1"/><circle cx="1161.58" cy="703.08" r="3.15" fill="#f7bab6" stroke="#a63e39" stroke-width="1"/><rect x="1039.5" y="528.0" width="26.5" height="14" fill="#fff"/><rect x="1031.0" y="606.3" width="21.0" height="12" fill="#fff"/><text x="1048.0" y="542.6" font-family="Liberation Sans, Arial, Helvetica, sans-serif" font-size="24.5" fill="#3a3a3a">4</text><text x="1035.0" y="619.8" font-family="Liberation Sans, Arial, Helvetica, sans-serif" font-size="21" fill="#3a3a3a">2</text><text x="1026.5" y="521.5" font-family="Liberation Sans, Arial, Helvetica, sans-serif" font-size="25" fill="#3a3a3a" text-anchor="middle">c</text><text x="861.9" y="698.3" font-family="Liberation Sans, Arial, Helvetica, sans-serif" font-size="25" fill="#3a3a3a" text-anchor="end">a</text><text x="11.50" y="23.40" font-family="Liberation Sans, Arial, Helvetica, sans-serif" font-size="25.5" fill="#111" text-anchor="start" font-weight="bold" >a</text><text x="479.30" y="23.40" font-family="Liberation Sans, Arial, Helvetica, sans-serif" font-size="25.5" fill="#111" text-anchor="start" font-weight="bold" >b</text><text x="888.50" y="23.40" font-family="Liberation Sans, Arial, Helvetica, sans-serif" font-size="25.5" fill="#111" text-anchor="start" font-weight="bold" >c</text><text x="451.50" y="513.00" font-family="Liberation Sans, Arial, Helvetica, sans-serif" font-size="25.5" fill="#111" text-anchor="start" font-weight="bold" >d</text><text x="868.50" y="513.00" font-family="Liberation Sans, Arial, Helvetica, sans-serif" font-size="25.5" fill="#111" text-anchor="start" font-weight="bold" >e</text>
</svg></body></html>
